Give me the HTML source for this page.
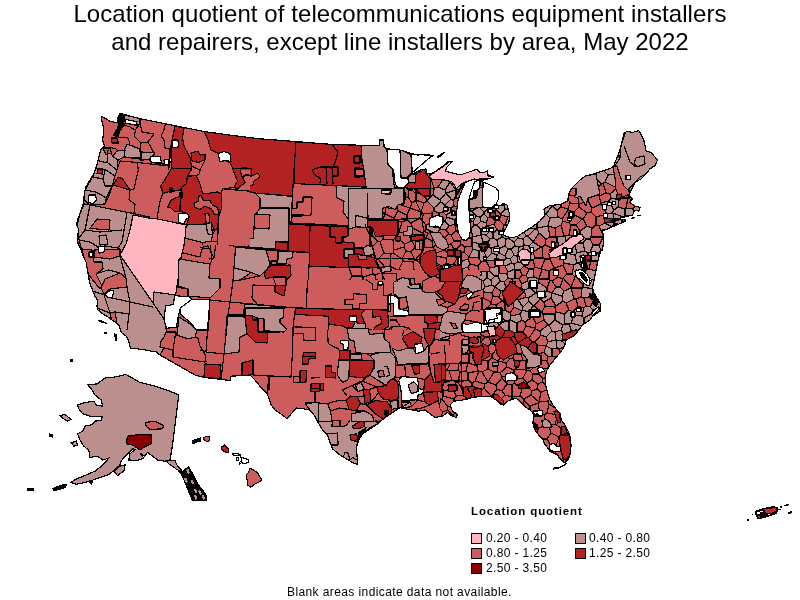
<!DOCTYPE html>
<html lang="en">
<head>
<meta charset="utf-8">
<title>Location quotient of telecommunications equipment installers and repairers, except line installers by area, May 2022</title>
<style>
html,body{margin:0;padding:0;background:#fff;}
body{width:800px;height:600px;overflow:hidden;position:relative;font-family:"Liberation Sans",sans-serif;color:#000;}
#map{position:absolute;left:0;top:0;width:800px;height:600px;}
.title{position:absolute;left:0;width:800px;text-align:center;font-size:24px;line-height:28px;white-space:nowrap;letter-spacing:0.08px;}
.t1{top:0px;}
.t2{top:28px;letter-spacing:0.02px;}
.legend-title{position:absolute;left:471px;top:504px;font-size:11.5px;font-weight:bold;line-height:14px;white-space:nowrap;letter-spacing:0.9px;}
.item{position:absolute;font-size:12px;line-height:14px;white-space:nowrap;letter-spacing:0.35px;}
.sw{position:absolute;width:9px;height:9px;border:1px solid #000;}
.foot{position:absolute;left:287px;top:585px;font-size:12px;line-height:14px;white-space:nowrap;letter-spacing:0.4px;}
</style>
</head>
<body>
<svg id="map" width="800" height="600" viewBox="0 0 800 600" shape-rendering="crispEdges">
<defs><path id="o" d="M102,116.5 L110,121.2 L117,123 L118,117.5 L120,113 L122.5,114 L140,118.8 L170,124.8 L203.8,131.5 L235,135.8 L260,138.8 L295,141.5 L332.5,144.5 L360,145.2 L379.5,145.5 L379.5,140 L383,139.2 L384.2,145.5 L386.2,148.8 L400,150 L410,153 L417.5,155 L425,154.5 L433,155.5 L428,159 L420,166 L412,173 L409,175.6 L412,174.4 L420,170 L426,169 L427,173 L430,174.4 L436,171 L443,166 L447,162 L452,161.6 L450,164 L447,167 L445.6,171 L452,173 L460,175 L466,173 L472,171 L477,169 L479,172 L484,172.4 L487.6,171 L488,175 L494,177 L488,179 L483,180 L480,179.6 L474,179 L469,181 L466,182.4 L462,184.4 L460,188 L457,193 L454.4,199 L460,190 L465,183 L462,190 L458,200 L456.4,214 L457,226 L459,234 L462,239.6 L466,240.4 L469,238 L470.4,230 L470,220 L469,210 L469,200 L471,192 L473,186 L475,181.6 L479,179.6 L483,182 L488,184 L496,188 L498.4,191 L498.4,199 L496,204.4 L500,206 L503,203 L507,205 L509.6,214 L509,222 L506,228 L504,232 L503,235 L506,236.4 L512,238 L518,236 L524,232 L532,227 L540,221 L545,215 L544,209 L550,205.5 L560,204.5 L567.5,201.2 L568.8,193.8 L571.2,188.8 L580,180 L585,176.2 L596.2,173.2 L612.5,167.5 L613.8,165.5 L620,150 L623.8,133.8 L627,131.2 L632.5,132.5 L638.8,130.5 L643.8,140 L646.2,151.2 L651.2,152.5 L657.5,160 L655,165.5 L650,168.8 L645,175 L641.2,178.8 L635,182.5 L632.5,187.5 L628.8,195 L632.5,198.8 L630,202.5 L635,206.2 L640,207.5 L638.8,211.2 L635,210 L632.5,215 L622.5,217.5 L610,220.5 L625,219.5 L625,221.5 L605,230 L602.5,230 L603.8,240 L602.5,250 L601.2,250 L598.8,257.5 L597,265 L595,275 L592.5,287.5 L593.8,292.5 L597.5,298.8 L600.5,303.8 L600,311.2 L592.5,316.2 L590,320 L582.5,325 L578.8,330 L575,335 L566.2,340 L565,345 L561.2,351.2 L555,358.8 L550,365 L547,370 L545,377.5 L545.5,385 L547.5,392.5 L548.1,395 L550,400 L553.8,406.2 L556.9,410 L560,413.8 L561.2,420 L565,425 L568.1,431.2 L570,436.2 L571,445 L570.6,452.5 L569,457.5 L566.9,461.2 L564.4,462.5 L562.5,461.2 L560,458.8 L557.5,455 L553.8,453.1 L550,451.2 L547.5,447.5 L544.4,443.8 L542.5,438.8 L538.8,435 L535.6,431.2 L533.8,427.5 L532.8,422.5 L533.8,417.5 L532.8,412.5 L530,410 L526.2,407.5 L522.5,403.8 L518.8,400.6 L516.2,398.1 L513.8,398.8 L507.5,401.2 L503.8,405 L500,403.8 L496.2,400 L490,396.2 L482.5,396.2 L472.5,397.5 L468.8,398.8 L462.5,400 L453.8,401.2 L450,405 L452.5,411.2 L457.5,414.5 L456.2,417.5 L451.2,415.5 L447.5,412.5 L442.5,416.2 L435,417.5 L430,413.8 L425,410 L418.8,411.2 L412.5,410 L405,408.8 L400,407.5 L392.5,412.5 L385,417.5 L377.5,423.8 L370,428.8 L362.5,433.8 L358.8,440 L356.2,447.5 L357,455 L357.5,464.5 L352.5,462.5 L346.2,458.8 L340,455 L332.5,448.8 L330,442.5 L327.5,435 L322.5,430 L318.8,423.8 L315,416.2 L310,410 L303.8,408.8 L296.2,408 L291.2,413.8 L287,418.8 L282.5,415 L275,410 L271.2,405 L268.8,397.5 L266.2,392.5 L260,386.2 L255,380 L250,375 L230.8,376.2 L230,380.5 L222,379.5 L204.5,377.5 L195,375 L160,355 L156.2,352 L142.5,349.5 L130.5,348 L128.8,341.2 L126.2,336.2 L121.2,332.5 L118.8,325 L113.8,321.2 L108.8,317.5 L102.5,313.8 L98,310 L97,306.2 L97.5,300 L95,296.2 L92.5,290 L89.5,282.5 L88.8,277.5 L87.5,270 L86.2,262.5 L83.8,257.5 L81.2,250 L78,243.8 L77.5,236.2 L78.8,230 L76.5,224.5 L77.5,220 L80,213.8 L82,207.5 L83.8,202.5 L84.2,193.8 L86.2,186.2 L90,180 L93.8,173.8 L97,165 L98.8,157.5 L100.5,150 L104.5,146.2 L102.5,140 L103.8,132.5 L103,125 L101.2,118.8Z"/><clipPath id="us"><use href="#o"/></clipPath></defs>
<use href="#o" fill="#CD5C5C"/>
<g clip-path="url(#us)" stroke="#000" stroke-width="1.2" stroke-linejoin="round">
<path d="M354,391 L353,390 L342,389 L340,393 L343,401 L348,403 L350,402 L355,393ZM468,373 L468,380 L472,383 L475,381 L479,371 L478,371ZM419,293 L410,292 L408,295 L410,304 L421,300 L421,299ZM548,401 L549,404 L555,408 L554,406 L550,400 L550,399ZM389,278 L389,281 L394,287 L397,288 L400,286 L401,282 L395,274ZM643,138 L639,130 L637,131 L637,132 L643,139ZM397,310 L395,311 L396,318 L404,320 L407,318 L405,311ZM502,391 L507,384 L502,378 L496,385 L497,389ZM552,293 L556,287 L552,281 L550,280 L547,288 L547,291 L552,293ZM399,296 L397,288 L394,287 L387,293 L389,300 L398,298ZM455,292 L456,290 L451,286 L446,288 L445,291 L447,296 L450,296ZM453,415 L447,410 L443,412 L441,416 L442,416 L448,412 L451,416 L453,416ZM543,258 L545,259 L550,259 L554,254 L554,249 L545,245 L542,247ZM378,378 L377,384 L381,389 L387,390 L389,388 L388,377ZM534,306 L542,312 L545,306 L544,302 L540,299ZM359,367 L349,366 L347,375 L353,378 L358,377ZM498,361 L497,372 L500,373 L507,367 L506,363ZM421,284 L422,287 L428,289 L435,286 L435,284 L435,283 L429,278 L426,278ZM571,288 L574,299 L576,299 L581,297 L582,288 L571,288ZM372,236 L362,239 L367,250 L369,250 L378,241ZM375,275 L383,272 L385,267 L378,259 L377,259 L372,265 L373,274ZM471,398 L472,398 L480,397 L481,391 L472,388 L466,396ZM332,420 L330,425 L330,430 L331,435 L333,437 L340,436 L342,425ZM376,346 L372,346 L366,355 L368,357 L374,358 L380,352ZM353,252 L353,244 L349,241 L345,250 L345,252ZM523,378 L527,383 L532,380 L533,374 L530,371 L527,370ZM364,210 L370,211 L374,202 L372,198 L366,197 L366,200 L362,209ZM381,389 L374,396 L382,403 L388,394 L387,390ZM505,395 L499,401 L501,404 L504,405 L508,401 L512,400 L512,397ZM563,278 L567,274 L563,265 L555,268 L558,277 L563,279ZM331,407 L330,407 L330,420 L332,420 L335,410ZM537,432 L539,428 L533,421 L533,422 L534,428 L536,431 L536,432ZM416,158 L414,158 L412,168 L415,170 L420,166 L422,164ZM447,263 L442,266 L442,271 L447,274 L450,273 L450,265ZM377,303 L379,309 L383,313 L390,309 L389,300 L378,301ZM383,239 L380,242 L384,253 L391,254 L393,253 L394,250 L393,240ZM549,366 L548,368 L548,369 L550,366ZM464,328 L464,332 L468,336 L473,334 L472,325 L470,324ZM434,211 L434,208 L427,201 L424,203 L421,212 L421,214 L432,213ZM351,343 L350,345 L354,355 L357,356 L361,353 L361,345 L357,341ZM424,379 L422,381 L422,389 L427,395 L435,388 L432,382ZM504,282 L506,287 L513,286 L512,279 L508,278ZM341,381 L332,379 L330,381 L330,391 L332,393 L340,393 L342,389ZM655,158 L656,163 L658,160 L655,157ZM445,245 L445,250 L449,255 L451,254 L454,249 L451,244ZM578,306 L576,299 L574,299 L566,303 L569,310 L573,312ZM367,184 L376,188 L380,173 L371,170 L366,176 L366,178ZM387,390 L388,394 L391,395 L401,394 L404,387 L399,383 L389,388ZM453,415 L453,416 L456,418 L458,414 L455,413ZM429,296 L428,289 L422,287 L419,293 L421,299ZM398,362 L409,360 L410,357 L406,350 L398,352 L396,354ZM443,396 L454,399 L456,396 L453,389 L443,391ZM332,393 L330,396 L330,402 L331,407 L335,410 L343,401 L340,393ZM330,363 L332,356 L330,355 L330,363ZM546,385 L545,378 L543,379 L542,382ZM366,420 L367,417 L363,407 L353,415 L356,421 L359,423ZM406,169 L405,168 L396,174 L396,176 L405,180 L407,178ZM384,353 L387,352 L389,342 L383,339 L380,340 L376,346 L380,352ZM438,365 L434,367 L433,370 L437,377 L440,377 L447,370ZM436,256 L446,258 L449,255 L445,250 L436,253 L436,254ZM394,250 L404,247 L405,244 L396,237 L393,240ZM512,400 L514,399 L516,398 L519,401 L522,404 L523,404 L524,401 L524,399 L520,396 L512,397ZM422,193 L423,188 L421,184 L418,183 L412,190 L416,194ZM485,323 L487,324 L495,319 L492,314 L486,312ZM543,439 L544,444 L548,448 L548,449 L551,446 L547,439ZM340,436 L333,437 L331,445 L338,450 L343,450 L346,442 L345,439ZM423,233 L412,228 L409,233 L411,241 L412,241 L423,237 L423,236ZM396,318 L393,321 L398,333 L402,331 L404,320ZM458,347 L463,354 L469,354 L470,353 L471,348 L465,342 L460,343ZM451,208 L451,212 L456,216 L456,214 L457,207 L454,206ZM459,363 L458,370 L460,372 L466,371 L468,363ZM501,312 L505,310 L505,304 L503,301 L502,301 L496,305 L497,310ZM354,252 L345,264 L345,266 L349,268 L358,265 L355,253ZM398,211 L397,205 L386,205 L385,213 L385,214 L394,218ZM420,322 L413,320 L411,330 L420,331ZM368,300 L369,302 L377,303 L378,301 L378,292 L371,288ZM542,247 L545,245 L546,239 L539,233 L533,242 L541,247ZM448,166 L450,164 L452,162 L447,162ZM537,353 L530,353 L529,359 L537,362 L539,360 L539,354ZM559,349 L560,353 L561,351 L564,347ZM375,157 L368,154 L366,155 L366,166 L371,170ZM415,260 L426,264 L427,257 L422,252ZM370,211 L364,210 L359,221 L362,226 L364,225 L371,216 L371,213ZM466,302 L470,306 L474,306 L475,299 L473,297 L470,297ZM411,252 L406,251 L402,259 L403,261 L413,262 L415,260ZM596,217 L591,212 L587,213 L583,219 L587,226 L592,228 L596,225ZM376,364 L369,369 L370,374 L377,376 L382,366ZM362,406 L363,407 L369,405 L373,396 L368,393 L362,397ZM558,415 L555,424 L561,428 L566,427 L565,425 L561,420 L560,415 L559,415ZM391,227 L384,227 L383,239 L393,240 L396,237 L397,234ZM380,145 L380,144 L380,145ZM349,268 L345,266 L345,281 L350,280 L352,276ZM597,195 L589,198 L588,201 L592,208 L601,204 L601,203 L599,196ZM491,304 L491,302 L483,298 L482,298 L482,309 L485,310ZM347,309 L346,320 L351,322 L353,321 L356,316 L353,307ZM332,356 L330,363 L332,367 L338,367 L345,360 L341,355ZM436,353 L429,357 L429,364 L434,367 L438,365 L440,358ZM596,217 L607,214 L601,204 L592,208 L591,212ZM460,318 L458,325 L464,328 L470,324 L469,321ZM460,269 L454,264 L450,265 L450,273 L454,275ZM423,237 L423,248 L433,247 L432,241 L423,236ZM543,258 L535,258 L533,260 L535,267 L541,269 L545,259ZM331,346 L332,345 L330,339 L330,346ZM563,448 L570,439 L560,436 L559,437 L556,446ZM367,315 L368,318 L376,321 L383,313 L379,309ZM497,401 L500,404 L501,404 L499,401ZM420,338 L421,346 L426,348 L429,347 L430,339 L422,336ZM399,383 L404,387 L407,386 L412,380 L410,374 L409,373 L400,372 L398,376ZM442,315 L441,312 L433,309 L429,314 L434,323 L436,322ZM418,183 L414,178 L407,178 L405,180 L405,187 L409,190 L412,190ZM351,330 L351,322 L346,320 L343,321 L340,333 L341,334 L344,335ZM521,354 L524,349 L518,343 L512,348 L514,354ZM526,370 L516,369 L514,370 L514,375 L516,379 L523,378 L527,370ZM399,232 L402,222 L394,220 L391,227 L397,234ZM479,371 L482,372 L488,369 L488,361 L481,360 L477,366 L478,371ZM571,288 L582,288 L583,287 L583,285 L576,276 L575,277 L571,287ZM355,445 L346,442 L343,450 L346,455 L355,456 L356,455ZM401,150 L400,150 L396,150 L395,151 L396,152 L397,152ZM417,349 L421,346 L420,338 L411,339 L409,344ZM397,363 L398,362 L396,354 L387,352 L384,353 L386,365ZM411,401 L403,397 L396,408 L398,409 L400,408 L405,409 L406,409ZM362,298 L354,302 L354,304 L365,310 L369,302 L368,300ZM475,299 L482,298 L483,298 L484,292 L483,290 L475,288 L475,289 L473,297ZM442,399 L443,396 L443,391 L442,389 L435,388 L427,395 L427,396 L429,398 L439,400ZM363,277 L362,276 L352,276 L350,280 L354,288 L360,287 L363,286ZM391,254 L390,266 L397,270 L399,269 L403,261 L402,259 L393,253ZM591,261 L589,269 L596,271 L597,265 L598,261ZM461,269 L460,269 L454,275 L456,278 L458,280 L465,279 L466,278 L462,269ZM492,355 L492,358 L498,361 L503,353 L503,352 L498,347ZM359,221 L357,221 L353,231 L359,231 L362,226ZM496,385 L488,382 L485,384 L484,388 L491,396 L492,396 L497,389ZM412,241 L415,247 L422,250 L423,248 L423,237ZM448,407 L447,410 L453,415 L455,413 L452,411 L450,406ZM392,168 L383,169 L380,173 L391,181 L396,176 L396,174ZM416,363 L418,369 L421,371 L426,365 L420,361ZM396,408 L395,408 L391,411 L391,412 L391,414 L392,412 L398,409ZM466,396 L472,388 L472,383 L468,380 L458,382 L465,395 L466,396ZM442,242 L445,245 L451,244 L454,241 L451,235 L449,234 L442,240ZM347,295 L345,292 L345,296ZM396,152 L395,151 L393,149 L386,149 L385,146 L381,147 L379,155 L383,158 L392,158ZM343,401 L335,410 L346,415 L350,413 L348,403ZM589,198 L586,193 L577,192 L577,193 L579,204 L588,201ZM561,460 L562,461 L564,462 L567,461 L568,459 L563,458ZM465,399 L469,399 L471,398 L466,396ZM405,187 L397,191 L396,193 L399,200 L408,197 L409,190ZM421,214 L421,212 L410,208 L407,215 L407,220 L411,223 L420,218ZM331,407 L330,402 L330,407ZM603,236 L603,235 L599,226 L596,225 L592,228 L591,237 L603,237ZM417,404 L412,401 L411,401 L406,409 L412,410 L416,411 L418,407ZM372,229 L364,225 L362,226 L359,231 L361,239 L362,239 L372,236ZM359,438 L358,441 L359,440 L361,436ZM541,335 L540,331 L535,329 L529,338 L532,342 L535,342ZM643,139 L642,140 L644,142 L644,140 L643,138ZM377,415 L379,417 L391,412 L391,411 L382,404 L377,408ZM525,322 L522,320 L517,323 L517,332 L523,332 L526,326ZM568,199 L568,201 L561,204 L561,207 L568,209 L570,203ZM417,353 L410,357 L409,360 L416,363 L420,361 L421,356ZM337,318 L337,317 L336,318ZM456,231 L451,235 L454,241 L460,241 L462,239 L459,234 L459,233ZM332,379 L330,372 L330,381ZM426,175 L427,178 L431,179 L437,175 L438,171 L438,170 L436,171 L430,174 L427,173 L427,172ZM331,445 L333,437 L331,435 L330,435 L330,442 L331,445ZM428,159 L433,156 L427,155 L428,159ZM418,369 L410,374 L412,380 L422,381 L424,379 L424,377 L421,371ZM539,360 L537,362 L537,364 L541,369 L548,368 L549,366 L547,361ZM426,264 L421,273 L426,278 L429,278 L433,272 L432,266ZM555,446 L551,446 L548,449 L550,451 L554,453 L556,454ZM429,411 L427,412 L430,414 L433,416ZM441,416 L443,412 L438,407 L429,411 L433,416 L435,418 L441,416ZM383,339 L386,330 L385,327 L378,327 L373,332 L380,340ZM422,336 L430,339 L435,337 L430,328 L422,334ZM359,438 L354,433 L352,433 L345,439 L346,442 L355,445 L358,442 L358,441ZM552,356 L548,357 L547,361 L549,366 L550,366 L550,365 L555,359 L557,357ZM464,252 L460,253 L457,258 L462,261 L468,259 L469,257ZM383,272 L389,278 L395,274 L397,270 L390,266 L385,267ZM584,298 L581,297 L576,299 L578,306 L584,308 L586,306ZM622,223 L625,222 L625,220 L622,220ZM625,215 L623,217 L628,216ZM413,282 L412,282 L409,289 L410,292 L419,293 L422,287 L421,284ZM455,224 L455,225 L457,225 L457,217 L455,220ZM546,346 L548,342 L546,337 L541,335 L535,342 L537,345ZM548,401 L550,399 L548,395 L548,392 L547,390 L541,392 L539,402ZM571,225 L569,223 L563,221 L561,225 L564,236 L565,236 L569,235ZM403,261 L399,269 L406,273 L414,270 L413,262ZM410,305 L410,304 L408,295 L399,296 L398,298 L399,302 L409,305ZM554,249 L557,246 L557,237 L556,237 L550,237 L546,239 L545,245ZM444,285 L446,280 L446,279 L440,278 L435,283 L435,284ZM554,268 L555,268 L563,265 L564,263 L563,258 L554,254 L550,259ZM350,413 L346,415 L344,424 L348,425 L356,421 L353,415ZM496,305 L502,301 L499,297 L493,296 L491,302 L491,304ZM343,321 L337,318 L336,318 L331,328 L336,333 L340,333ZM548,368 L541,369 L539,374 L543,379 L545,378 L547,370 L548,369ZM394,218 L385,214 L381,225 L384,227 L391,227 L394,220ZM492,396 L491,396 L490,396 L494,399ZM474,306 L478,310 L482,309 L482,298 L475,299ZM528,278 L526,276 L522,275 L519,279 L522,284 L527,281ZM332,345 L331,346 L332,356 L341,355 L342,349 L339,345ZM422,389 L415,392 L412,401 L417,404 L427,396 L427,395ZM451,244 L454,249 L457,249 L461,244 L460,241 L454,241ZM478,266 L470,264 L468,267 L471,274 L477,274 L479,271ZM429,314 L424,314 L422,321 L430,326 L434,323ZM356,421 L348,425 L352,433 L354,433 L359,426 L359,423ZM458,280 L457,288 L465,288 L466,280 L465,279ZM397,205 L398,211 L407,215 L410,208 L398,204ZM422,381 L412,380 L407,386 L415,392 L422,389ZM458,370 L449,371 L452,380 L456,382 L458,382 L460,372ZM366,166 L366,176 L371,170ZM494,224 L497,230 L501,231 L503,229 L504,225 L499,220 L496,221ZM412,168 L406,169 L407,178 L414,178 L417,172 L412,174 L409,176 L412,173 L415,170ZM356,455 L355,456 L355,464 L358,464 L357,455ZM367,250 L364,253 L365,263 L372,265 L377,259 L369,250ZM397,191 L391,182 L381,189 L387,196 L396,193ZM368,154 L367,149 L366,148 L366,155ZM587,213 L591,212 L592,208 L588,201 L579,204 L579,207ZM564,291 L571,288 L571,287 L563,278 L563,279 L560,287ZM576,225 L582,219 L575,215 L569,223 L571,225ZM472,200 L470,196 L469,200 L469,204ZM629,197 L628,198 L626,208 L633,209 L635,206 L630,202 L631,201ZM496,221 L499,220 L501,215 L501,214 L496,210 L494,211 L491,217ZM433,247 L442,242 L442,240 L437,234 L432,241 L433,247ZM485,323 L481,324 L480,334 L485,337 L489,337 L492,333 L487,324ZM399,200 L396,193 L387,196 L385,203 L386,205 L397,205 L398,204ZM449,349 L452,350 L458,347 L460,343 L455,336 L448,338 L448,347ZM399,296 L408,295 L410,292 L409,289 L400,286 L397,288ZM380,242 L378,241 L369,250 L377,259 L378,259 L384,253ZM396,237 L405,244 L411,241 L409,233 L399,232 L397,234ZM344,335 L341,334 L339,345 L342,349 L350,345 L351,343ZM346,455 L343,450 L338,450 L337,452 L340,455 L345,458ZM372,198 L376,188 L367,184 L366,184 L366,197ZM433,309 L441,312 L444,308 L442,300 L435,298 L432,306ZM363,407 L367,417 L377,415 L377,408 L369,405ZM508,295 L514,301 L517,299 L516,290ZM512,397 L520,396 L522,389 L514,383 L512,385ZM438,187 L442,181 L437,175 L431,179 L434,188ZM371,427 L366,420 L359,423 L359,426 L365,432 L369,429ZM353,378 L347,375 L345,376 L341,381 L342,389 L353,390ZM559,415 L560,415 L560,414 L559,413ZM437,377 L432,382 L435,388 L442,389 L444,383 L440,377ZM379,155 L381,147 L380,145 L380,146 L370,145 L367,149 L368,154 L375,157ZM555,307 L556,312 L564,314 L569,310 L566,303 L563,301 L556,306ZM472,242 L472,238 L469,238 L466,240 L462,240 L462,239 L460,241 L461,244 L465,247 L472,246ZM472,388 L481,391 L484,388 L485,384 L475,381 L472,383ZM357,341 L361,345 L368,343 L368,333 L365,331 L359,335ZM524,266 L529,269 L533,269 L535,267 L533,260 L526,260 L524,263ZM353,244 L361,239 L359,231 L353,231 L349,241ZM389,342 L395,340 L396,339 L398,334 L386,330 L383,339ZM607,214 L596,217 L596,225 L599,226 L605,223ZM443,412 L447,410 L448,407 L442,399 L439,400 L438,407ZM574,212 L568,210 L562,219 L563,221 L569,223 L575,215ZM542,269 L539,279 L549,279 L549,271ZM480,356 L483,349 L479,345 L476,345 L471,348 L470,353ZM468,259 L470,264 L478,266 L481,262 L479,258 L469,257ZM440,358 L438,365 L447,370 L451,362 L443,357ZM574,236 L580,233 L580,231 L576,225 L571,225 L569,235ZM365,385 L364,379 L358,377 L353,378 L353,390 L354,391ZM538,403 L540,414 L544,415 L547,413 L549,404 L548,401 L539,402ZM568,209 L561,207 L557,210 L558,217 L562,219 L568,210ZM429,411 L429,398 L427,396 L417,404 L418,407 L424,410 L425,410 L427,412ZM486,261 L490,268 L499,266 L500,265 L496,260 L486,261ZM385,214 L385,213 L371,213 L371,216 L379,225 L381,225ZM402,259 L406,251 L404,247 L394,250 L393,253ZM418,155 L410,153 L409,153 L410,157 L414,158 L416,158ZM338,450 L331,445 L332,449 L337,452ZM461,299 L461,296 L455,292 L450,296 L454,303ZM447,296 L445,291 L437,290 L435,298 L442,300ZM514,383 L516,379 L514,375 L502,377 L502,378 L507,384 L512,385ZM533,317 L536,324 L544,320 L543,314 L542,312ZM404,320 L402,331 L408,332 L411,330 L413,320 L412,319 L407,318ZM454,206 L457,207 L458,200 L459,199 L456,198 L455,198 L454,199 L455,199 L453,200ZM530,371 L537,364 L537,362 L529,359 L526,361 L526,370 L527,370ZM434,367 L429,364 L426,365 L421,371 L424,377 L433,370ZM622,198 L619,200 L618,207 L625,209 L626,208 L628,198ZM514,354 L512,348 L510,348 L503,352 L503,353 L510,359 L513,358ZM409,373 L409,360 L398,362 L397,363 L400,372ZM383,169 L383,158 L379,155 L375,157 L371,170 L380,173ZM432,306 L435,298 L429,296 L421,299 L421,300 L423,304ZM373,332 L368,333 L368,343 L372,346 L376,346 L380,340ZM384,353 L380,352 L374,358 L376,364 L382,366 L386,365ZM541,269 L542,269 L549,271 L554,268 L550,259 L545,259ZM371,288 L378,292 L382,290 L383,283 L376,279ZM502,378 L502,377 L500,373 L497,372 L494,372 L488,382 L496,385ZM421,300 L410,304 L410,305 L415,312 L421,311 L423,304ZM534,417 L540,414 L538,403 L530,406 L530,410 L533,412 L534,417ZM371,216 L364,225 L372,229 L379,225ZM354,288 L348,295 L354,302 L362,298 L360,287ZM474,225 L473,222 L470,220 L470,229 L471,229ZM388,376 L398,376 L400,372 L397,363 L386,365ZM405,180 L396,176 L391,181 L391,182 L397,191 L405,187ZM470,324 L472,325 L479,323 L477,313 L470,316 L469,321ZM438,337 L439,347 L448,347 L448,338 L447,338 L438,337ZM435,298 L437,290 L435,286 L428,289 L429,296 L435,298ZM450,296 L447,296 L442,300 L444,308 L451,308 L454,304 L454,303ZM459,199 L462,190 L462,189 L461,188 L460,190 L456,196 L456,198ZM456,190 L456,195 L457,193 L460,189ZM526,361 L523,360 L516,362 L516,369 L526,370ZM473,237 L471,229 L470,229 L470,230 L469,238 L472,238ZM559,437 L560,436 L561,428 L555,424 L549,426 L551,433ZM350,402 L348,403 L350,413 L353,415 L363,407 L362,406ZM517,299 L518,300 L526,297 L524,290 L521,288 L517,289 L516,290ZM547,439 L551,433 L549,426 L547,425 L539,428 L537,432 L538,434 L539,435 L542,439 L543,439ZM363,277 L363,286 L371,288 L376,279 L375,275 L373,274ZM338,367 L332,367 L330,372 L332,379 L341,381 L345,376ZM409,373 L410,374 L418,369 L416,363 L409,360ZM579,204 L577,193 L570,194 L569,195 L568,199 L570,203 L579,204ZM348,425 L344,424 L342,425 L340,436 L345,439 L352,433ZM451,308 L455,316 L458,316 L462,311 L461,308 L454,304ZM359,221 L364,210 L362,209 L357,221ZM464,302 L466,302 L470,297 L466,294 L461,296 L461,299ZM377,384 L367,386 L368,393 L373,396 L374,396 L381,389ZM382,404 L391,411 L395,408 L391,395 L388,394 L382,403ZM510,359 L506,363 L507,367 L514,370 L516,369 L516,362 L513,358ZM637,132 L637,131 L632,132 L629,132 L630,133ZM436,263 L442,266 L447,263 L446,258 L436,256ZM470,212 L471,211 L469,204 L469,210 L469,212ZM374,358 L368,357 L366,366 L369,369 L376,364ZM365,331 L364,326 L353,321 L351,322 L351,330 L359,335ZM589,269 L591,261 L588,257 L579,263 L584,271 L585,271ZM365,310 L366,314 L367,315 L379,309 L377,303 L369,302ZM395,151 L396,150 L393,149ZM346,455 L345,458 L346,459 L352,462 L355,464 L355,456ZM603,183 L602,184 L596,189 L597,195 L599,196 L606,193ZM466,396 L465,395 L456,396 L454,399 L454,401 L462,400 L465,399ZM465,342 L468,336 L464,332 L456,334 L455,336 L460,343ZM539,360 L547,361 L548,357 L544,352 L539,354ZM462,311 L465,311 L470,306 L466,302 L464,302 L461,308ZM547,425 L544,415 L540,414 L534,417 L534,418 L533,421 L539,428ZM487,272 L489,271 L490,268 L486,261 L481,262 L478,266 L479,271ZM443,357 L451,362 L456,360 L452,350 L449,349ZM414,178 L418,183 L421,184 L427,178 L426,175 L417,171 L417,172ZM452,173 L446,171 L447,168 L443,171 L449,179 L450,179ZM415,312 L412,319 L413,320 L420,322 L422,321 L424,314 L421,311ZM364,253 L355,253 L358,265 L361,266 L365,263ZM403,164 L405,159 L397,152 L396,152 L392,158 L394,164ZM416,411 L419,411 L424,410 L418,407ZM432,241 L437,234 L426,229 L423,233 L423,236ZM451,282 L451,286 L456,290 L457,288 L458,280 L456,278ZM507,384 L502,391 L505,395 L512,397 L512,385ZM483,349 L480,356 L481,360 L488,361 L492,358 L492,355 L486,349ZM406,278 L412,282 L413,282 L416,272 L414,270 L406,273ZM402,331 L398,333 L398,334 L396,339 L408,345 L409,344 L411,339 L408,332ZM367,184 L366,178 L366,184ZM354,302 L348,295 L347,295 L345,296 L345,300 L341,307 L347,309 L353,307 L354,304ZM353,321 L364,326 L368,318 L367,315 L366,314 L356,316ZM575,277 L572,274 L567,274 L563,278 L571,287ZM357,356 L354,355 L346,360 L349,366 L359,367 L360,366ZM432,222 L432,213 L421,214 L420,218 L426,225ZM439,222 L445,221 L447,217 L446,215 L443,212 L439,213ZM345,281 L345,292 L347,295 L348,295 L354,288 L350,280ZM346,320 L347,309 L341,307 L341,308 L337,317 L337,318 L343,321ZM398,298 L389,300 L390,309 L395,311 L397,310 L399,302ZM556,237 L555,228 L548,226 L550,237ZM355,445 L356,455 L357,455 L356,448 L358,442ZM558,277 L555,268 L554,268 L549,271 L549,279 L550,280 L552,281ZM418,155 L416,158 L422,164 L428,159 L427,155 L425,154 L422,155ZM399,302 L397,310 L405,311 L409,305ZM629,197 L629,195 L629,187 L621,184 L617,188 L622,198 L628,198 L629,197ZM335,410 L332,420 L342,425 L344,424 L346,415ZM374,202 L370,211 L371,213 L385,213 L386,205 L385,203ZM450,273 L447,274 L446,279 L446,280 L451,282 L456,278 L454,275ZM533,317 L532,317 L525,322 L526,326 L535,328 L536,324ZM378,327 L385,327 L388,322 L383,313 L376,321ZM456,360 L463,354 L458,347 L452,350ZM549,279 L539,279 L538,282 L547,288 L550,280ZM535,328 L535,329 L540,331 L548,325 L544,320 L536,324ZM377,376 L370,374 L364,379 L365,385 L367,386 L377,384 L378,378ZM504,290 L501,291 L499,297 L502,301 L503,301 L508,295ZM437,175 L442,181 L449,179 L443,171 L438,171ZM436,253 L445,250 L445,245 L442,242 L433,247ZM405,311 L407,318 L412,319 L415,312 L410,305 L409,305ZM372,198 L374,202 L385,203 L387,196 L381,189 L376,188ZM413,262 L414,270 L416,272 L421,273 L426,264 L415,260ZM497,372 L498,361 L492,358 L488,361 L488,369 L494,372ZM447,370 L440,377 L444,383 L452,380 L449,371 L447,370ZM392,168 L394,164 L392,158 L383,158 L383,169ZM459,233 L457,226 L457,225 L455,225 L456,231ZM442,399 L448,407 L450,406 L450,405 L454,401 L454,399 L443,396ZM488,382 L494,372 L488,369 L482,372 L488,382ZM469,257 L473,249 L472,246 L465,247 L464,252 L469,257ZM542,382 L543,379 L539,374 L533,374 L532,380 L538,384ZM429,347 L426,348 L426,354 L429,357 L436,353 L436,350ZM381,225 L379,225 L372,229 L372,236 L378,241 L380,242 L383,239 L384,227ZM559,349 L557,348 L552,349 L552,356 L557,357 L560,353ZM367,149 L370,145 L366,145 L366,148ZM451,254 L449,255 L446,258 L447,263 L450,265 L454,264 L457,258ZM395,408 L396,408 L403,397 L401,394 L391,395ZM435,337 L438,337 L440,327 L436,322 L434,323 L430,326 L430,328ZM330,339 L336,333 L331,328 L330,330 L330,339ZM331,435 L330,430 L330,435ZM447,162 L443,166 L438,170 L438,171 L443,171 L447,168 L447,167 L448,166ZM378,301 L389,300 L387,293 L382,290 L378,292ZM462,261 L457,258 L454,264 L460,269 L461,269ZM403,397 L411,401 L412,401 L415,392 L407,386 L404,387 L401,394ZM383,313 L388,322 L393,321 L396,318 L395,311 L390,309ZM412,190 L409,190 L408,197 L412,203 L416,200 L416,194ZM538,384 L532,380 L527,383 L527,386 L532,391 L537,389ZM544,352 L546,346 L537,345 L537,353 L539,354ZM361,239 L353,244 L353,252 L354,252 L355,253 L364,253 L367,250 L362,239ZM372,265 L365,263 L361,266 L362,276 L363,277 L373,274ZM416,200 L412,203 L410,208 L421,212 L424,203ZM368,333 L373,332 L378,327 L376,321 L368,318 L364,326 L365,331ZM547,425 L549,426 L555,424 L558,415 L547,413 L544,415ZM423,188 L434,189 L434,188 L431,179 L427,178 L421,184ZM388,377 L389,388 L399,383 L398,376 L388,376ZM422,250 L415,247 L411,252 L415,260 L422,252ZM449,234 L446,230 L440,229 L437,234 L442,240ZM624,140 L630,137 L630,133 L629,132 L627,131 L624,134 L623,139ZM423,248 L422,250 L422,252 L427,257 L436,254 L436,253 L433,247ZM572,274 L574,265 L564,263 L563,265 L567,274ZM396,354 L398,352 L395,340 L389,342 L387,352ZM485,310 L482,309 L478,310 L477,313 L479,323 L481,324 L485,323 L486,312ZM535,328 L526,326 L523,332 L527,337 L529,338 L535,329ZM439,347 L436,350 L436,353 L440,358 L443,357 L449,349 L448,347ZM435,283 L440,278 L439,273 L433,272 L429,278ZM579,207 L579,204 L570,203 L568,209 L568,210 L574,212ZM383,283 L382,290 L387,293 L394,287 L389,281ZM466,371 L468,373 L478,371 L477,366 L469,363 L468,363ZM444,285 L435,284 L435,286 L437,290 L445,291 L446,288ZM510,359 L503,353 L498,361 L506,363ZM582,219 L583,219 L587,213 L579,207 L574,212 L575,215ZM486,349 L492,355 L498,347 L491,343ZM535,267 L533,269 L534,277 L539,279 L542,269 L541,269ZM510,313 L511,316 L520,314 L522,311 L514,307ZM417,349 L409,344 L408,345 L406,350 L410,357 L417,353ZM565,451 L563,458 L568,459 L569,458 L571,452 L571,451ZM531,395 L524,399 L524,401 L530,406 L538,403 L539,402ZM380,145 L381,147 L385,146 L384,146 L384,144 L380,143 L380,144ZM366,366 L360,366 L359,367 L358,377 L364,379 L370,374 L369,369ZM469,354 L469,363 L477,366 L481,360 L480,356 L470,353ZM506,287 L504,290 L508,295 L516,290 L517,289 L513,286ZM341,355 L345,360 L346,360 L354,355 L350,345 L342,349ZM530,371 L533,374 L539,374 L541,369 L537,364ZM556,446 L559,437 L551,433 L547,439 L551,446 L555,446ZM391,412 L379,417 L380,422 L385,418 L391,414ZM332,367 L330,363 L330,372ZM513,286 L517,289 L521,288 L522,284 L519,279 L515,278 L512,279ZM430,339 L429,347 L436,350 L439,347 L438,337 L435,337ZM543,314 L555,314 L556,312 L555,307 L545,306 L542,312ZM610,194 L617,188 L605,182 L603,183 L606,193ZM355,393 L350,402 L362,406 L362,397ZM332,393 L330,391 L330,396ZM570,439 L563,448 L565,451 L571,451 L571,445 L570,440ZM530,353 L527,349 L524,349 L521,354 L523,360 L526,361 L529,359ZM384,253 L378,259 L385,267 L390,266 L391,254ZM470,212 L469,212 L469,214ZM492,314 L497,310 L496,305 L491,304 L485,310 L486,312ZM420,331 L411,330 L408,332 L411,339 L420,338 L422,336 L422,334ZM426,229 L426,225 L420,218 L411,223 L412,228 L423,233ZM409,233 L412,228 L411,223 L407,220 L402,222 L399,232ZM449,234 L451,235 L456,231 L455,225 L455,224 L449,226 L446,230ZM488,226 L494,224 L496,221 L491,217 L488,218 L486,223 L487,226ZM400,286 L409,289 L412,282 L406,278 L401,282ZM514,301 L508,295 L503,301 L505,304 L513,303ZM516,362 L523,360 L521,354 L514,354 L513,358ZM330,346 L330,355 L332,356 L331,346ZM353,307 L356,316 L366,314 L365,310 L354,304ZM470,316 L465,311 L462,311 L458,316 L460,318 L469,321ZM418,155 L422,155 L418,155ZM402,222 L407,220 L407,215 L398,211 L394,218 L394,220ZM391,182 L391,181 L380,173 L376,188 L381,189ZM405,244 L404,247 L406,251 L411,252 L415,247 L412,241 L411,241ZM401,282 L406,278 L406,273 L399,269 L397,270 L395,274ZM451,286 L451,282 L446,280 L444,285 L446,288ZM492,396 L494,399 L496,400 L497,401 L499,401 L505,395 L502,391 L497,389ZM465,311 L470,316 L477,313 L478,310 L474,306 L470,306ZM500,373 L502,377 L514,375 L514,370 L507,367ZM463,354 L456,360 L459,363 L468,363 L469,363 L469,354ZM508,272 L505,266 L501,265 L500,265 L499,266 L499,273 L507,274ZM351,330 L344,335 L351,343 L357,341 L359,335ZM412,168 L414,158 L410,157 L405,159 L403,164 L405,168 L406,169ZM489,337 L485,337 L479,345 L483,349 L486,349 L491,343ZM458,382 L456,382 L453,389 L456,396 L465,395ZM346,360 L345,360 L338,367 L345,376 L347,375 L349,366ZM376,279 L383,283 L389,281 L389,278 L383,272 L375,275ZM549,404 L547,413 L558,415 L559,415 L559,413 L557,410 L555,408ZM416,200 L424,203 L427,201 L427,200 L422,193 L416,194ZM466,289 L465,288 L457,288 L456,290 L455,292 L461,296 L466,294ZM397,152 L405,159 L410,157 L409,153 L401,150ZM488,382 L482,372 L479,371 L475,381 L485,384ZM403,164 L394,164 L392,168 L396,174 L405,168ZM421,273 L416,272 L413,282 L421,284 L426,278ZM520,270 L522,275 L526,276 L529,269 L524,266ZM603,238 L603,237 L591,237 L590,239 L593,245 L599,245ZM513,303 L505,304 L505,310 L510,313 L514,307ZM427,200 L433,195 L434,189 L423,188 L422,193ZM371,427 L369,429 L370,429 L373,427ZM379,417 L377,415 L367,417 L366,420 L371,427 L373,427 L378,424 L380,422ZM465,247 L461,244 L457,249 L460,253 L464,252ZM341,334 L340,333 L336,333 L330,339 L332,345 L339,345ZM599,196 L601,203 L609,201 L611,198 L610,194 L606,193ZM410,208 L412,203 L408,197 L399,200 L398,204ZM360,287 L362,298 L368,300 L371,288 L363,286ZM499,220 L504,225 L505,225 L508,217 L501,215ZM484,292 L483,298 L491,302 L493,296 L492,293ZM420,361 L426,365 L429,364 L429,357 L426,354 L421,356ZM386,330 L398,334 L398,333 L393,321 L388,322 L385,327ZM544,302 L545,306 L555,307 L556,306 L551,298ZM493,296 L499,297 L501,291 L495,287 L492,293ZM570,439 L570,440 L570,438ZM520,396 L524,399 L531,395 L532,391 L527,386 L522,389ZM434,211 L432,213 L432,222 L438,224 L439,222 L439,213ZM426,175 L427,172 L426,169 L420,170 L417,171ZM561,428 L560,436 L570,439 L570,438 L570,436 L568,431 L566,427ZM372,346 L368,343 L361,345 L361,353 L366,355ZM359,426 L354,433 L359,438 L361,436 L362,434 L365,432ZM439,400 L429,398 L429,411 L438,407ZM377,408 L382,404 L382,403 L374,396 L373,396 L369,405ZM541,392 L547,390 L546,385 L542,382 L538,384 L537,389ZM368,393 L367,386 L365,385 L354,391 L355,393 L362,397ZM433,370 L424,377 L424,379 L432,382 L437,377ZM427,257 L426,264 L432,266 L436,263 L436,256 L436,254ZM386,365 L382,366 L377,376 L378,378 L388,377 L388,376 L386,365ZM460,372 L458,382 L468,380 L468,373 L466,371ZM430,328 L430,326 L422,321 L420,322 L420,331 L422,334ZM332,420 L330,420 L330,425ZM556,454 L558,455 L560,459 L561,460 L563,458 L565,451 L563,448 L556,446 L555,446ZM587,226 L583,219 L582,219 L576,225 L580,231ZM557,237 L564,236 L561,225 L555,228 L556,237ZM533,252 L535,258 L543,258 L542,247 L541,247ZM426,354 L426,348 L421,346 L417,349 L417,353 L421,356ZM472,325 L473,334 L474,334 L480,334 L481,324 L479,323ZM459,363 L456,360 L451,362 L447,370 L449,371 L458,370ZM532,391 L531,395 L539,402 L541,392 L537,389ZM530,406 L524,401 L523,404 L526,408 L530,410ZM432,266 L433,272 L439,273 L442,271 L442,266 L436,263ZM454,304 L461,308 L464,302 L461,299 L454,303ZM442,389 L443,391 L453,389 L456,382 L452,380 L444,383ZM366,355 L361,353 L357,356 L360,366 L366,366 L368,357ZM491,396 L484,388 L481,391 L480,397 L482,396 L490,396ZM595,298 L593,296 L584,298 L586,306 L590,307ZM537,432 L536,432 L538,434ZM636,143 L642,140 L643,139 L637,132 L630,133 L630,137ZM515,270 L515,278 L519,279 L522,275 L520,270ZM361,266 L358,265 L349,268 L352,276 L362,276ZM439,273 L440,278 L446,279 L447,274 L442,271ZM560,287 L563,279 L558,277 L552,281 L556,287ZM421,311 L424,314 L429,314 L433,309 L432,306 L423,304ZM354,252 L353,252 L345,252 L345,264ZM522,389 L527,386 L527,383 L523,378 L516,379 L514,383ZM406,350 L408,345 L396,339 L395,340 L398,352ZM457,249 L454,249 L451,254 L457,258 L460,253ZM495,319 L501,316 L501,312 L497,310 L492,314ZM473,297 L475,289 L466,289 L466,294 L470,297Z" fill="#CD5C5C" stroke="#CD5C5C" stroke-width="0.6"/>
<path d="M628,168 L631,174 L635,176 L640,174 L640,168 L637,164 L629,166ZM580,233 L586,239 L590,239 L591,237 L592,228 L587,226 L580,231ZM473,249 L479,251 L481,250 L481,244 L472,242 L472,246ZM468,267 L462,269 L466,278 L471,274ZM614,165 L614,166 L612,168 L604,170 L604,171 L608,175 L617,174 L619,169 L618,167ZM426,229 L437,234 L440,229 L438,224 L432,222 L426,225ZM600,307 L600,304 L598,299 L597,299 L595,298 L590,307 L593,310ZM629,197 L631,197 L629,195ZM629,187 L629,195 L632,188 L634,185ZM617,188 L621,184 L621,181 L617,174 L608,175 L605,182 L617,188ZM509,237 L506,236 L503,235 L504,232 L505,230 L503,229 L501,231 L502,237 L506,239 L508,238ZM578,185 L581,182 L581,179 L580,180 L576,184ZM456,190 L446,193 L451,199 L453,200 L455,199 L456,195ZM456,198 L456,196 L455,198ZM546,337 L552,331 L549,325 L548,325 L540,331 L541,335ZM535,229 L537,229 L537,228 L537,224 L532,227 L531,228ZM578,185 L577,192 L586,193 L589,186 L581,182ZM592,179 L595,178 L597,173 L596,173 L588,175ZM633,149 L636,143 L630,137 L624,140 L624,145ZM508,238 L514,242 L518,238 L517,236 L512,238 L509,237ZM533,242 L528,236 L526,236 L523,239 L524,245 L529,246ZM461,183 L466,180 L465,176 L460,175 L457,180ZM641,155 L649,161 L655,158 L655,157 L651,152 L646,151 L646,149ZM508,217 L505,225 L508,225 L509,222 L509,216ZM612,213 L614,210 L609,201 L601,203 L601,204 L607,214ZM506,258 L501,265 L505,266 L512,263 L510,259ZM488,218 L484,214 L480,217 L481,221 L486,223ZM537,228 L548,226 L550,218 L546,214 L545,214 L545,215 L540,221 L537,224ZM504,205 L505,209 L509,210 L507,205 L505,204 L504,204ZM593,289 L593,296 L595,298 L597,299 L594,292 L593,289ZM446,193 L445,190 L438,187 L434,188 L434,189 L433,195 L440,200 L446,193ZM492,253 L497,255 L499,253 L500,248 L498,246 L491,248ZM492,285 L485,287 L483,290 L484,292 L492,293 L495,287ZM496,190 L488,195 L488,201 L495,200 L498,197 L498,195 L498,192ZM614,224 L612,227 L618,224ZM438,224 L440,229 L446,230 L449,226 L445,221 L439,222ZM546,214 L550,218 L558,217 L557,210 L552,206ZM627,157 L621,156 L618,167 L619,169 L628,168 L629,166ZM450,179 L450,180 L457,180 L460,175 L452,173ZM593,313 L584,318 L584,323 L585,323 L590,320 L592,316 L594,315ZM599,245 L593,245 L590,252 L598,253 L601,251ZM546,346 L552,349 L557,348 L556,340 L548,342 L546,346ZM570,194 L569,193 L569,194 L569,195ZM438,337 L447,338 L446,327 L440,327ZM522,310 L522,311 L520,314 L522,320 L525,322 L532,317 L529,312ZM588,278 L583,285 L583,287 L593,289 L592,288 L594,280ZM477,225 L474,225 L471,229 L473,237 L481,235 L481,234 L481,230ZM481,250 L479,251 L479,258 L481,262 L486,261 L487,258 L483,250ZM579,263 L577,263 L574,265 L572,274 L575,277 L576,276 L584,271ZM455,316 L451,308 L444,308 L441,312 L442,315 L449,320ZM544,320 L548,325 L549,325 L555,320 L555,314 L543,314ZM611,198 L619,200 L622,198 L617,188 L610,194ZM514,242 L508,238 L506,239 L505,246 L508,249 L511,249 L515,246ZM565,324 L563,325 L561,330 L565,336 L569,336 L572,332 L569,324ZM443,212 L445,206 L445,205 L441,202 L434,208 L434,211 L439,213ZM625,215 L625,209 L618,207 L614,210 L612,213 L613,213 L623,217ZM478,173 L481,172 L479,172 L477,169 L476,169ZM555,332 L561,330 L563,325 L555,320 L549,325 L552,331ZM612,213 L607,214 L605,223 L612,227 L614,224 L614,220 L610,220 L614,220 L613,213ZM472,180 L474,179 L480,180 L477,176 L474,176ZM477,187 L480,185 L481,181 L479,180 L475,182 L473,185ZM539,279 L534,277 L528,278 L527,281 L530,284 L538,283 L538,282ZM519,247 L518,255 L525,255 L523,246ZM556,306 L563,301 L562,296 L552,293 L551,298ZM445,221 L449,226 L455,224 L455,220 L447,217ZM515,269 L508,272 L507,274 L508,278 L512,279 L515,278 L515,270ZM563,258 L564,263 L574,265 L577,263 L575,255 L566,253ZM475,284 L475,288 L483,290 L485,287 L483,281 L478,279ZM495,276 L498,276 L499,273 L499,266 L490,268 L489,271ZM650,169 L655,166 L656,163 L655,158 L649,161 L648,164ZM633,209 L626,208 L625,209 L625,215 L628,216 L632,215 L634,212ZM621,156 L620,148 L620,150 L618,156ZM480,202 L479,207 L484,212 L489,208 L488,201ZM505,209 L504,205 L501,205 L500,206 L499,206 L497,206 L496,210 L501,214ZM536,293 L530,288 L524,290 L526,297 L528,298ZM486,177 L488,179 L494,177 L488,175 L488,174ZM489,185 L495,188 L489,185ZM486,235 L481,234 L481,235 L483,242 L488,242 L490,239ZM552,293 L547,291 L539,295 L540,299 L544,302 L551,298ZM637,164 L639,156 L634,153 L627,157 L629,166ZM563,258 L566,253 L566,248 L557,246 L554,249 L554,254ZM550,237 L548,226 L537,228 L537,229 L539,233 L546,239ZM539,233 L537,229 L535,229 L528,236 L533,242ZM446,327 L449,325 L449,320 L442,315 L436,322 L440,327ZM477,189 L477,187 L473,185 L473,186 L471,192 L470,195ZM618,167 L621,156 L618,156 L614,165ZM565,236 L567,247 L575,245 L576,243 L574,236 L569,235ZM499,253 L505,256 L508,249 L505,246 L500,248ZM575,255 L577,263 L579,263 L588,257 L588,253 L585,251 L577,253ZM640,174 L635,176 L635,183 L635,182 L641,179 L644,176ZM473,222 L476,216 L472,211 L471,211 L470,212 L469,214 L470,220ZM522,311 L522,310 L523,307 L518,300 L517,299 L514,301 L513,303 L514,307ZM445,205 L445,206 L451,208 L454,206 L453,200 L451,199ZM481,230 L481,234 L486,235 L490,231 L488,226 L487,226ZM555,228 L561,225 L563,221 L562,219 L558,217 L550,218 L548,226ZM572,332 L569,336 L570,338 L575,335 L576,333ZM491,280 L492,285 L495,287 L500,281 L498,276 L495,276ZM533,242 L529,246 L531,251 L533,252 L541,247ZM635,176 L631,174 L621,181 L621,184 L629,187 L634,185 L635,183ZM447,338 L448,338 L455,336 L456,334 L455,328 L449,325 L446,327ZM598,253 L599,258 L601,251ZM595,178 L602,184 L603,183 L605,182 L608,175 L604,171 L597,173ZM469,204 L471,211 L472,211 L479,207 L480,202 L479,200 L472,200ZM603,237 L603,238 L604,239 L603,236ZM479,200 L480,202 L488,201 L488,195 L486,193 L479,192ZM582,316 L574,315 L571,323 L582,326 L584,323 L584,318ZM461,183 L457,180 L450,180 L450,182 L456,190 L460,189 L460,188 L461,186ZM445,190 L450,182 L450,180 L450,179 L449,179 L442,181 L438,187ZM504,282 L500,281 L495,287 L501,291 L504,290 L506,287ZM536,293 L528,298 L529,301 L533,306 L534,306 L540,299 L539,295ZM637,164 L640,168 L648,164 L649,161 L641,155 L639,156ZM498,246 L497,240 L493,238 L490,239 L488,242 L490,247 L491,248ZM480,185 L487,186 L489,185 L488,184 L483,182 L481,181ZM486,177 L482,180 L483,180 L488,179ZM475,289 L475,288 L475,284 L466,280 L465,288 L466,289ZM470,264 L468,259 L462,261 L461,269 L462,269 L468,267ZM467,173 L470,172 L467,173ZM446,193 L440,200 L441,202 L445,205 L451,199ZM556,340 L562,341 L565,336 L561,330 L555,332ZM586,239 L583,243 L585,251 L588,253 L590,252 L593,245 L590,239ZM518,262 L514,264 L515,269 L515,270 L520,270 L524,266 L524,263ZM593,310 L590,307 L586,306 L584,308 L582,316 L584,318 L593,313ZM619,169 L617,174 L621,181 L631,174 L628,168ZM477,274 L478,279 L483,281 L487,278 L487,272 L479,271ZM515,333 L517,332 L517,323 L510,320 L509,321 L509,330ZM556,312 L555,314 L555,320 L563,325 L565,324 L564,314ZM450,182 L445,190 L446,193 L456,190ZM567,247 L565,236 L564,236 L557,237 L557,246 L566,248ZM495,188 L496,190 L498,192 L498,191 L496,188 L495,188ZM471,274 L466,278 L465,279 L466,280 L475,284 L478,279 L477,274ZM495,319 L499,325 L505,321 L501,316 L495,319ZM487,258 L486,261 L496,260 L497,255 L492,253ZM639,156 L641,155 L646,149 L644,142 L642,140 L636,143 L633,149 L634,153ZM593,289 L583,287 L582,288 L581,297 L584,298 L593,296ZM598,253 L590,252 L588,253 L588,257 L591,261 L598,261 L599,258ZM596,189 L589,186 L586,193 L589,198 L597,195ZM552,293 L562,296 L564,291 L560,287 L556,287ZM446,215 L451,212 L451,208 L445,206 L443,212ZM529,301 L523,307 L522,310 L529,312 L533,306ZM519,247 L523,246 L524,245 L523,239 L518,238 L514,242 L515,246ZM604,171 L604,170 L604,171ZM603,238 L599,245 L601,251 L601,250 L602,250 L604,240 L604,239ZM562,296 L563,301 L566,303 L574,299 L571,288 L564,291ZM570,194 L577,193 L577,192 L578,185 L576,184 L571,189 L569,193ZM633,209 L634,212 L635,210 L639,211 L640,208 L635,206ZM488,242 L483,242 L481,244 L481,250 L483,250 L490,247ZM534,306 L533,306 L529,312 L532,317 L533,317 L542,312ZM564,347 L565,345 L565,344 L562,341 L556,340 L557,348 L559,349ZM486,177 L482,172 L481,172 L478,173 L477,176 L480,180 L482,180ZM494,211 L489,208 L484,212 L484,214 L488,218 L491,217ZM596,271 L589,269 L585,271 L588,278 L594,280 L595,275 L596,271ZM511,249 L514,255 L517,256 L518,255 L519,247 L515,246ZM495,200 L488,201 L489,208 L494,211 L496,210 L497,206 L497,205 L496,204ZM511,316 L510,320 L517,323 L522,320 L520,314ZM466,180 L461,183 L461,186 L462,184 L466,182 L469,181ZM462,189 L465,183 L461,188ZM508,217 L509,216 L510,214 L509,210 L505,209 L501,214 L501,215ZM582,326 L571,323 L569,324 L572,332 L576,333 L579,330 L581,327ZM514,255 L510,259 L512,263 L514,264 L518,262 L517,256ZM518,262 L524,263 L526,260 L525,255 L518,255 L517,256ZM566,253 L575,255 L577,253 L575,245 L567,247 L566,248ZM496,260 L500,265 L501,265 L506,258 L505,256 L499,253 L497,255ZM507,274 L499,273 L498,276 L500,281 L504,282 L508,278ZM501,312 L501,316 L505,321 L509,321 L510,320 L511,316 L510,313 L505,310ZM623,217 L613,213 L614,220 L622,218 L623,217ZM622,220 L614,220 L614,224 L618,224 L622,223ZM535,229 L531,228 L524,232 L526,236 L528,236ZM505,225 L504,225 L503,229 L505,230 L506,228 L508,225ZM531,251 L525,255 L526,260 L533,260 L535,258 L533,252ZM528,298 L526,297 L518,300 L523,307 L529,301ZM634,153 L633,149 L624,145 L620,148 L621,156 L627,157ZM490,247 L483,250 L487,258 L492,253 L491,248ZM434,208 L441,202 L440,200 L433,195 L427,200 L427,201ZM487,278 L491,280 L495,276 L489,271 L487,272ZM497,240 L502,237 L501,231 L497,230 L493,233 L493,238ZM584,323 L582,326 L581,327 L582,325 L585,323ZM612,227 L605,223 L599,226 L603,235 L602,230 L605,230 L612,227ZM577,253 L585,251 L583,243 L576,243 L575,245ZM595,178 L592,179 L589,186 L596,189 L602,184ZM504,205 L504,204 L504,203 L503,203 L501,205ZM497,206 L499,206 L497,205ZM495,200 L496,204 L498,199 L498,197ZM492,333 L499,325 L495,319 L487,324ZM556,340 L555,332 L552,331 L546,337 L548,342ZM547,288 L538,282 L538,283 L536,293 L539,295 L547,291ZM470,172 L474,176 L477,176 L478,173 L476,169 L472,171 L470,172ZM569,336 L565,336 L562,341 L565,344 L566,340 L570,338ZM479,192 L486,193 L487,186 L480,185 L477,187 L477,189ZM576,243 L583,243 L586,239 L580,233 L574,236ZM460,175 L465,176 L467,173 L466,173 L460,175ZM574,315 L573,312 L569,310 L564,314 L565,324 L569,324 L571,323ZM488,195 L496,190 L495,188 L489,185 L487,186 L486,193ZM629,197 L631,201 L632,199 L631,197ZM504,204 L505,204 L504,203ZM455,328 L458,325 L460,318 L458,316 L455,316 L449,320 L449,325ZM470,195 L470,196 L472,200 L479,200 L479,192 L477,189ZM480,217 L476,216 L473,222 L474,225 L477,225 L481,221ZM505,331 L509,330 L509,321 L505,321 L499,325ZM648,164 L640,168 L640,174 L644,176 L645,175 L650,169ZM481,244 L483,242 L481,235 L473,237 L472,238 L472,242ZM467,173 L465,176 L466,180 L469,181 L472,180 L474,176 L470,172ZM483,281 L485,287 L492,285 L491,280 L487,278ZM479,258 L479,251 L473,249 L469,257ZM490,231 L493,233 L497,230 L494,224 L488,226ZM594,315 L600,311 L600,307 L593,310 L593,313ZM620,148 L624,145 L624,140 L623,139 L620,148ZM534,277 L533,269 L529,269 L526,276 L528,278ZM498,192 L498,195 L498,192ZM518,238 L523,239 L526,236 L524,232 L518,236 L517,236ZM522,284 L521,288 L524,290 L530,288 L530,284 L527,281ZM498,246 L500,248 L505,246 L506,239 L502,237 L497,240ZM456,334 L464,332 L464,328 L458,325 L455,328ZM581,182 L589,186 L592,179 L588,175 L585,176 L581,179ZM546,214 L552,206 L552,205 L550,206 L544,209 L545,214ZM548,357 L552,356 L552,349 L546,346 L544,352ZM557,210 L561,207 L561,204 L560,204 L552,205 L552,206ZM511,249 L508,249 L505,256 L506,258 L510,259 L514,255ZM486,177 L488,174 L488,171 L484,172 L482,172ZM530,284 L530,288 L536,293 L538,283ZM455,220 L457,217 L456,216 L451,212 L446,215 L447,217ZM584,271 L576,276 L583,285 L588,278 L585,271ZM480,217 L484,214 L484,212 L479,207 L472,211 L476,216ZM493,233 L490,231 L486,235 L490,239 L493,238ZM578,306 L573,312 L574,315 L582,316 L584,308ZM529,246 L524,245 L523,246 L525,255 L531,251ZM486,223 L481,221 L477,225 L481,230 L487,226ZM514,264 L512,263 L505,266 L508,272 L515,269ZM614,210 L618,207 L619,200 L611,198 L609,201Z" fill="#BC8F8F" stroke="#BC8F8F" stroke-width="0.6"/>
<path d="M506,340 L514,336 L515,333 L509,330 L505,331 L502,338 L502,339ZM480,334 L474,334 L476,345 L479,345 L485,337ZM499,325 L492,333 L502,338 L505,331 L499,325ZM498,347 L502,339 L502,338 L492,333 L489,337 L491,343ZM498,347 L503,352 L510,348 L506,340 L502,339ZM517,332 L515,333 L514,336 L518,343 L527,337 L523,332ZM529,338 L527,337 L518,343 L524,349 L527,349 L532,342ZM510,348 L512,348 L518,343 L514,336 L506,340ZM476,345 L474,334 L473,334 L468,336 L465,342 L471,348ZM537,345 L535,342 L532,342 L527,349 L530,353 L537,353Z" fill="#B22222" stroke="#B22222" stroke-width="0.6"/>
<path d="M346,455 L345,458M346,455 L343,450M338,450 L343,450M338,450 L337,452M331,445 L338,450M380,144 L380,145M366,148 L367,149M367,149 L370,145M331,407 L330,402M330,407 L331,407M330,435 L331,435M330,430 L331,435M331,445 L333,437M333,437 L331,435M332,420 L330,420M332,420 L330,425M333,437 L340,436M332,420 L342,425M340,436 L342,425M561,460 L563,458M568,459 L563,458M343,450 L346,442M340,436 L345,439M346,442 L345,439M380,145 L381,147M381,147 L385,146M643,138 L643,139M637,131 L637,132M637,132 L643,139M332,420 L335,410M331,407 L335,410M335,410 L346,415M342,425 L344,424M344,424 L346,415M563,448 L565,451M563,448 L570,439M565,451 L571,451M570,439 L570,440M563,458 L565,451M346,455 L355,456M355,464 L355,456M346,442 L355,445M355,445 L356,455M355,456 L356,455M391,412 L391,414M391,412 L379,417M379,417 L380,422M332,393 L330,396M330,391 L332,393M549,426 L555,424M558,415 L555,424M549,426 L547,425M558,415 L547,413M547,413 L544,415M547,425 L544,415M643,139 L642,140M642,140 L644,142M637,132 L630,133M629,132 L630,133M636,143 L642,140M636,143 L630,137M630,133 L630,137M566,427 L561,428M570,439 L570,438M570,439 L560,436M561,428 L560,436M345,439 L352,433M344,424 L348,425M348,425 L352,433M559,437 L551,433M559,437 L556,446M551,446 L555,446M551,446 L547,439M547,439 L551,433M556,446 L555,446M561,428 L555,424M560,436 L559,437M549,426 L551,433M563,448 L556,446M556,454 L555,446M548,449 L551,446M543,439 L547,439M330,372 L332,367M330,372 L332,379M332,379 L341,381M338,367 L332,367M338,367 L345,376M341,381 L345,376M330,381 L332,379M332,367 L330,363M330,363 L332,356M330,355 L332,356M330,346 L331,346M332,356 L331,346M345,360 L338,367M345,360 L341,355M332,356 L341,355M406,409 L411,401M396,408 L398,409M396,408 L403,397M403,397 L411,401M407,386 L415,392M407,386 L412,380M412,380 L422,381M415,392 L422,389M422,381 L422,389M427,396 L417,404M417,404 L412,401M427,396 L427,395M415,392 L412,401M422,389 L427,395M381,147 L379,155M367,149 L368,154M379,155 L375,157M368,154 L375,157M368,154 L366,155M393,149 L395,151M395,151 L396,150M579,204 L588,201M579,204 L577,193M577,193 L577,192M577,192 L586,193M586,193 L589,198M589,198 L588,201M558,415 L559,415M560,415 L559,415M335,410 L343,401M346,415 L350,413M350,413 L348,403M343,401 L348,403M332,393 L340,393M343,401 L340,393M341,381 L342,389M340,393 L342,389M350,413 L353,415M348,425 L356,421M356,421 L353,415M369,429 L371,427M365,432 L359,426M371,427 L366,420M366,420 L359,423M359,426 L359,423M367,417 L366,420M377,415 L367,417M379,417 L377,415M373,427 L371,427M367,417 L363,407M356,421 L359,423M353,415 L363,407M352,433 L354,433M354,433 L359,426M361,436 L359,438M359,438 L358,441M354,433 L359,438M355,445 L358,442M356,455 L357,455M416,411 L418,407M424,410 L418,407M429,411 L427,412M433,416 L429,411M391,411 L395,408M395,408 L396,408M391,412 L391,411M412,401 L411,401M417,404 L418,407M346,360 L349,366M345,360 L346,360M345,376 L347,375M347,375 L349,366M345,292 L347,295M345,296 L347,295M341,308 L341,307M331,346 L332,345M332,345 L330,339M345,252 L353,252M345,264 L354,252M353,252 L354,252M407,386 L404,387M403,397 L401,394M404,387 L401,394M395,408 L391,395M401,394 L391,395M424,379 L422,381M418,369 L410,374M412,380 L410,374M418,369 L421,371M424,379 L424,377M424,377 L421,371M424,377 L433,370M421,371 L426,365M429,364 L426,365M429,364 L434,367M434,367 L433,370M498,361 L497,372M498,361 L492,358M492,358 L488,361M488,361 L488,369M488,369 L494,372M497,372 L494,372M540,414 L534,417M530,410 L530,406M540,414 L538,403M530,406 L538,403M533,421 L539,428M537,432 L539,428M537,432 L536,432M544,415 L540,414M547,425 L539,428M538,434 L537,432M530,406 L524,401M524,401 L523,404M492,396 L494,399M492,396 L491,396M491,396 L490,396M453,415 L455,413M453,415 L453,416M447,410 L448,407M450,406 L448,407M447,410 L453,415M441,416 L443,412M443,412 L447,410M401,150 L397,152M410,157 L409,153M410,157 L405,159M405,159 L397,152M395,151 L396,152M396,152 L397,152M655,157 L655,158M655,158 L656,163M640,168 L648,164M640,168 L637,164M637,164 L639,156M649,161 L648,164M649,161 L641,155M641,155 L639,156M650,169 L648,164M644,176 L640,174M640,174 L640,168M655,158 L649,161M646,149 L641,155M629,187 L621,184M629,187 L634,185M635,183 L635,176M621,181 L621,184M621,181 L631,174M631,174 L635,176M618,207 L614,210M618,207 L619,200M619,200 L611,198M611,198 L609,201M614,210 L609,201M630,137 L624,140M624,140 L623,139M636,143 L633,149M639,156 L634,153M633,149 L634,153M624,140 L624,145M633,149 L624,145M624,145 L620,148M620,148 L621,156M621,156 L618,156M578,185 L576,184M578,185 L581,182M581,182 L581,179M570,194 L577,193M577,192 L578,185M570,194 L569,193M586,193 L589,186M589,186 L581,182M592,179 L589,186M588,175 L592,179M622,198 L628,198M622,198 L619,200M625,209 L626,208M625,209 L618,207M626,208 L628,198M622,198 L617,188M629,197 L629,195M629,195 L629,187M617,188 L621,184M628,198 L629,197M626,208 L633,209M629,197 L631,201M633,209 L635,206M444,285 L435,284M446,280 L444,285M446,279 L440,278M440,278 L435,283M446,280 L446,279M435,283 L435,284M377,415 L377,408M391,411 L382,404M382,404 L377,408M347,375 L353,378M349,366 L359,367M359,367 L358,377M353,378 L358,377M342,389 L353,390M353,378 L353,390M447,274 L442,271M447,274 L446,279M440,278 L439,273M439,273 L442,271M349,268 L358,265M345,266 L349,268M354,252 L355,253M358,265 L355,253M353,252 L353,244M349,241 L353,244M346,360 L354,355M359,367 L360,366M354,355 L357,356M357,356 L360,366M382,404 L382,403M391,395 L388,394M388,394 L382,403M420,338 L411,339M420,338 L421,346M421,346 L417,349M417,349 L409,344M411,339 L409,344M453,389 L443,391M453,389 L456,396M456,396 L454,399M454,399 L443,396M443,396 L443,391M442,399 L448,407M442,399 L443,396M454,401 L454,399M435,388 L432,382M435,388 L442,389M442,389 L444,383M444,383 L440,377M432,382 L437,377M437,377 L440,377M427,395 L435,388M424,379 L432,382M443,391 L442,389M456,382 L453,389M456,382 L452,380M452,380 L444,383M433,370 L437,377M440,377 L447,370M434,367 L438,365M438,365 L447,370M452,380 L449,371M449,371 L447,370M480,397 L481,391M491,396 L484,388M481,391 L484,388M451,362 L447,370M449,371 L458,370M456,360 L451,362M456,360 L459,363M459,363 L458,370M456,382 L458,382M458,382 L460,372M458,370 L460,372M429,364 L429,357M429,357 L436,353M438,365 L440,358M436,353 L440,358M451,362 L443,357M440,358 L443,357M476,345 L479,345M474,334 L476,345M474,334 L480,334M480,334 L485,337M479,345 L485,337M479,371 L475,381M479,371 L482,372M482,372 L488,382M475,381 L485,384M488,382 L485,384M488,382 L494,372M488,369 L482,372M429,398 L429,411M429,398 L439,400M439,400 L438,407M429,411 L438,407M427,396 L429,398M442,399 L439,400M443,412 L438,407M379,155 L383,158M396,152 L392,158M383,158 L392,158M489,185 L495,188M472,211 L479,207M480,202 L479,207M471,211 L472,211M469,204 L471,211M469,204 L472,200M480,202 L479,200M479,200 L472,200M479,207 L484,212M484,212 L489,208M480,202 L488,201M489,208 L488,201M418,155 L422,155M427,155 L428,159M460,175 L465,176M467,173 L465,176M465,176 L466,180M466,180 L461,183M460,175 L457,180M461,183 L457,180M448,166 L447,162M589,198 L597,195M589,186 L596,189M596,189 L597,195M592,208 L588,201M592,208 L601,204M601,204 L601,203M601,203 L599,196M597,195 L599,196M592,179 L595,178M596,189 L602,184M595,178 L602,184M595,178 L597,173M604,170 L604,171M621,156 L627,157M621,156 L618,167M627,157 L629,166M619,169 L618,167M619,169 L628,168M628,168 L629,166M634,153 L627,157M614,165 L618,167M637,164 L629,166M604,171 L608,175M617,174 L608,175M617,174 L619,169M631,174 L628,168M617,174 L621,181M640,174 L635,176M570,194 L569,195M609,201 L601,203M614,210 L612,213M601,204 L607,214M612,213 L607,214M559,415 L559,413M548,401 L549,404M549,404 L555,408M550,399 L548,401M547,413 L549,404M518,343 L514,336M518,343 L527,337M514,336 L515,333M515,333 L517,332M527,337 L523,332M517,332 L523,332M629,197 L631,197M408,345 L409,344M396,339 L398,334M396,339 L408,345M398,333 L398,334M398,333 L402,331M411,339 L408,332M402,331 L408,332M396,318 L404,320M393,321 L396,318M393,321 L398,333M402,331 L404,320M383,313 L376,321M383,313 L388,322M388,322 L385,327M385,327 L378,327M378,327 L376,321M393,321 L388,322M398,334 L386,330M386,330 L385,327M472,211 L476,216M484,214 L484,212M484,214 L480,217M480,217 L476,216M471,211 L470,212M470,220 L473,222M470,212 L469,214M476,216 L473,222M382,403 L374,396M374,396 L373,396M377,408 L369,405M373,396 L369,405M363,407 L369,405M373,332 L368,333M368,333 L365,331M368,318 L376,321M368,318 L364,326M373,332 L378,327M364,326 L365,331M337,318 L343,321M337,318 L336,318M343,321 L340,333M331,328 L336,333M336,333 L340,333M341,307 L347,309M347,309 L346,320M337,317 L337,318M346,320 L343,321M330,339 L336,333M332,345 L339,345M340,333 L341,334M341,334 L339,345M354,355 L350,345M341,355 L342,349M350,345 L342,349M342,349 L339,345M410,292 L409,289M409,289 L400,286M408,295 L410,292M408,295 L399,296M399,296 L397,288M400,286 L397,288M422,287 L421,284M422,287 L419,293M412,282 L409,289M412,282 L413,282M419,293 L410,292M413,282 L421,284M348,295 L347,295M348,295 L354,288M345,281 L350,280M354,288 L350,280M349,268 L352,276M350,280 L352,276M410,357 L409,360M410,357 L417,353M416,363 L409,360M416,363 L420,361M420,361 L421,356M417,353 L421,356M406,350 L410,357M408,345 L406,350M417,349 L417,353M418,369 L416,363M409,373 L410,374M409,373 L409,360M426,365 L420,361M429,357 L426,354M426,354 L421,356M426,348 L426,354M426,348 L421,346M458,382 L468,380M458,382 L465,395M472,388 L472,383M472,388 L466,396M472,383 L468,380M465,395 L466,396M456,396 L465,395M481,391 L472,388M484,388 L485,384M475,381 L472,383M471,398 L466,396M465,399 L466,396M468,373 L466,371M468,373 L478,371M466,371 L468,363M477,366 L478,371M477,366 L469,363M469,363 L468,363M460,372 L466,371M468,380 L468,373M479,371 L478,371M459,363 L468,363M481,360 L488,361M481,360 L477,366M473,334 L474,334M468,336 L473,334M476,345 L471,348M468,336 L465,342M465,342 L471,348M480,356 L483,349M480,356 L470,353M483,349 L479,345M471,348 L470,353M456,360 L463,354M469,363 L469,354M463,354 L469,354M481,360 L480,356M469,354 L470,353M447,263 L450,265M447,263 L442,266M447,274 L450,273M442,266 L442,271M450,273 L450,265M508,272 L507,274M508,272 L505,266M500,265 L501,265M500,265 L499,266M505,266 L501,265M499,266 L499,273M499,273 L507,274M475,288 L475,284M475,284 L478,279M483,290 L485,287M483,290 L475,288M485,287 L483,281M483,281 L478,279M510,320 L517,323M510,320 L509,321M515,333 L509,330M517,332 L517,323M509,321 L509,330M503,352 L510,348M503,352 L498,347M510,348 L506,340M498,347 L502,339M506,340 L502,339M512,348 L510,348M518,343 L512,348M514,336 L506,340M502,338 L502,339M502,338 L505,331M505,331 L509,330M498,361 L506,363M498,361 L503,353M503,353 L510,359M510,359 L506,363M514,375 L514,370M502,377 L514,375M500,373 L507,367M500,373 L502,377M514,370 L507,367M497,372 L500,373M507,367 L506,363M492,355 L486,349M492,355 L498,347M486,349 L491,343M498,347 L491,343M492,358 L492,355M483,349 L486,349M503,352 L503,353M485,337 L489,337M489,337 L491,343M492,333 L489,337M492,333 L502,338M353,244 L361,239M353,231 L359,231M359,231 L361,239M357,221 L359,221M359,221 L362,226M359,231 L362,226M366,166 L371,170M366,176 L371,170M375,157 L371,170M504,225 L499,220M505,225 L504,225M508,217 L505,225M508,217 L501,215M499,220 L501,215M489,208 L494,211M495,200 L496,204M497,205 L497,206M495,200 L488,201M497,206 L496,210M496,210 L494,211M504,205 L501,205M499,206 L497,206M505,209 L504,205M505,209 L501,214M496,210 L501,214M509,216 L508,217M505,209 L509,210M501,214 L501,215M487,186 L486,193M487,186 L480,185M486,193 L479,192M479,192 L477,189M480,185 L477,187M477,187 L477,189M496,190 L495,188M489,185 L487,186M488,195 L486,193M488,195 L496,190M482,180 L486,177M488,179 L486,177M481,181 L480,185M488,195 L488,201M479,200 L479,192M470,195 L477,189M472,200 L470,196M496,190 L498,192M495,200 L498,197M498,195 L498,192M486,177 L488,174M470,212 L469,212M392,158 L394,164M405,159 L403,164M403,164 L394,164M480,180 L477,176M472,180 L474,176M473,185 L477,187M477,176 L474,176M469,181 L466,180M467,173 L470,172M474,176 L470,172M461,183 L461,186M461,188 L462,189M457,180 L450,180M452,173 L450,179M450,180 L450,179M443,171 L447,168M443,171 L449,179M449,179 L450,179M605,182 L603,183M605,182 L617,188M603,183 L606,193M617,188 L610,194M610,194 L606,193M608,175 L605,182M602,184 L603,183M599,196 L606,193M611,198 L610,194M588,257 L588,253M588,253 L585,251M579,263 L577,263M579,263 L588,257M577,263 L575,255M575,255 L577,253M585,251 L577,253M546,214 L545,214M546,214 L552,206M552,205 L552,206M557,210 L552,206M558,217 L557,210M558,217 L550,218M550,218 L546,214M561,207 L561,204M557,210 L561,207M583,219 L587,213M583,219 L587,226M596,217 L596,225M596,217 L591,212M591,212 L587,213M587,226 L592,228M592,228 L596,225M607,214 L596,217M592,208 L591,212M568,199 L570,203M561,207 L568,209M568,209 L570,203M570,203 L579,204M587,213 L579,207M579,204 L579,207M558,217 L562,219M568,209 L568,210M562,219 L568,210M579,207 L574,212M568,210 L574,212M585,251 L583,243M577,253 L575,245M583,243 L576,243M576,243 L575,245M607,214 L605,223M596,225 L599,226M599,226 L605,223M505,225 L508,225M504,225 L503,229M505,230 L503,229M546,385 L542,382M545,378 L543,379M543,379 L542,382M539,374 L541,369M539,374 L543,379M548,368 L541,369M548,368 L548,369M524,401 L524,399M538,403 L539,402M524,399 L531,395M531,395 L539,402M548,401 L539,402M547,390 L541,392M541,392 L539,402M523,360 L521,354M523,360 L516,362M521,354 L514,354M516,362 L513,358M514,354 L513,358M518,343 L524,349M512,348 L514,354M524,349 L521,354M510,359 L513,358M516,369 L514,370M516,369 L516,362M532,380 L527,383M532,380 L538,384M538,384 L537,389M527,386 L532,391M527,386 L527,383M532,391 L537,389M542,382 L538,384M539,374 L533,374M533,374 L532,380M541,392 L537,389M531,395 L532,391M526,361 L529,359M526,361 L526,370M529,359 L537,362M530,371 L537,364M530,371 L527,370M537,362 L537,364M526,370 L527,370M530,353 L527,349M524,349 L527,349M530,353 L529,359M523,360 L526,361M516,369 L526,370M541,369 L537,364M533,374 L530,371M523,378 L527,383M523,378 L527,370M516,379 L514,375M516,379 L523,378M524,290 L530,288M526,297 L524,290M526,297 L528,298M530,288 L536,293M536,293 L528,298M518,300 L523,307M526,297 L518,300M523,307 L529,301M528,298 L529,301M582,288 L583,287M582,288 L581,297M583,287 L593,289M581,297 L584,298M584,298 L593,296M593,289 L593,296M563,265 L564,263M574,265 L564,263M574,265 L572,274M563,265 L567,274M572,274 L567,274M583,285 L576,276M583,285 L588,278M588,278 L585,271M576,276 L584,271M584,271 L585,271M572,274 L575,277M575,277 L576,276M577,263 L574,265M579,263 L584,271M588,257 L591,261M591,261 L589,269M589,269 L585,271M588,278 L594,280M583,287 L583,285M595,298 L593,296M597,299 L595,298M591,261 L598,261M589,269 L596,271M368,318 L367,315M383,313 L379,309M367,315 L379,309M408,332 L411,330M411,330 L413,320M404,320 L407,318M413,320 L412,319M412,319 L407,318M387,293 L389,300M394,287 L397,288M399,296 L398,298M394,287 L387,293M389,300 L398,298M396,318 L395,311M383,313 L390,309M395,311 L390,309M473,222 L474,225M474,225 L471,229M470,229 L471,229M446,258 L449,255M446,258 L447,263M449,255 L451,254M450,265 L454,264M454,264 L457,258M451,254 L457,258M364,379 L365,385M358,377 L364,379M353,390 L354,391M365,385 L354,391M351,330 L359,335M351,330 L344,335M344,335 L351,343M351,343 L357,341M357,341 L359,335M353,321 L351,322M353,321 L364,326M351,322 L351,330M365,331 L359,335M346,320 L351,322M341,334 L344,335M350,345 L351,343M357,356 L361,353M361,345 L361,353M361,345 L357,341M368,343 L368,333M361,345 L368,343M387,293 L382,290M382,290 L383,283M394,287 L389,281M383,283 L389,281M412,282 L406,278M400,286 L401,282M406,278 L401,282M416,272 L413,282M414,270 L416,272M414,270 L406,273M406,278 L406,273M416,272 L421,273M421,284 L426,278M421,273 L426,278M439,273 L433,272M435,283 L429,278M433,272 L429,278M428,289 L435,286M428,289 L422,287M435,284 L435,286M429,278 L426,278M406,350 L398,352M396,339 L395,340M395,340 L398,352M398,362 L396,354M398,362 L409,360M398,352 L396,354M368,343 L372,346M361,353 L366,355M372,346 L366,355M446,280 L451,282M444,285 L446,288M451,282 L451,286M451,286 L446,288M437,290 L435,286M437,290 L445,291M445,291 L446,288M473,334 L472,325M480,334 L481,324M481,324 L479,323M472,325 L479,323M499,297 L493,296M499,297 L501,291M501,291 L495,287M495,287 L492,293M493,296 L492,293M491,302 L483,298M491,302 L493,296M484,292 L492,293M483,298 L484,292M519,279 L522,275M519,279 L522,284M522,284 L527,281M522,275 L526,276M526,276 L528,278M528,278 L527,281M530,284 L530,288M521,288 L524,290M521,288 L522,284M530,284 L527,281M534,277 L528,278M534,277 L533,269M529,269 L533,269M529,269 L526,276M503,301 L502,301M502,301 L499,297M501,291 L504,290M508,295 L503,301M504,290 L508,295M514,301 L517,299M517,299 L516,290M508,295 L514,301M508,295 L516,290M521,288 L517,289M518,300 L517,299M517,289 L516,290M506,258 L501,265M506,258 L510,259M505,266 L512,263M512,263 L510,259M502,237 L501,231M503,229 L501,231M509,237 L508,238M502,237 L506,239M506,239 L508,238M505,256 L499,253M505,256 L508,249M508,249 L505,246M505,246 L500,248M499,253 L500,248M485,287 L492,285M483,290 L484,292M492,285 L495,287M465,288 L466,289M466,280 L465,288M466,280 L475,284M475,288 L475,289M475,289 L466,289M509,321 L505,321M505,331 L499,325M505,321 L499,325M492,333 L499,325M497,401 L499,401M501,404 L499,401M502,378 L507,384M502,378 L496,385M507,384 L502,391M502,391 L497,389M496,385 L497,389M502,377 L502,378M488,382 L496,385M505,395 L499,401M492,396 L497,389M505,395 L502,391M520,396 L522,389M520,396 L512,397M512,397 L512,385M522,389 L514,383M514,383 L512,385M524,399 L520,396M527,386 L522,389M512,400 L512,397M505,395 L512,397M507,384 L512,385M516,379 L514,383M414,270 L413,262M406,273 L399,269M399,269 L403,261M403,261 L413,262M497,230 L493,233M493,233 L490,231M497,230 L494,224M490,231 L488,226M494,224 L488,226M499,220 L496,221M497,230 L501,231M494,224 L496,221M494,211 L491,217M496,221 L491,217M484,214 L488,218M488,218 L491,217M504,203 L504,204M505,204 L504,204M504,205 L504,204M459,233 L456,231M457,225 L455,225M455,225 L456,231M455,225 L455,224M455,224 L455,220M457,217 L455,220M443,171 L438,171M449,179 L442,181M442,181 L437,175M437,175 L438,171M438,171 L438,170M410,157 L414,158M418,155 L416,158M414,158 L416,158M383,158 L383,169M394,164 L392,168M392,168 L383,169M371,170 L380,173M383,169 L380,173M476,169 L478,173M478,173 L481,172M477,176 L478,173M486,177 L482,172M450,180 L450,182M450,182 L445,190M442,181 L438,187M445,190 L438,187M565,236 L567,247M567,247 L566,248M557,237 L564,236M564,236 L565,236M557,237 L557,246M557,246 L566,248M575,255 L566,253M564,263 L563,258M563,258 L566,253M567,247 L575,245M566,253 L566,248M562,219 L563,221M563,221 L569,223M574,212 L575,215M569,223 L575,215M583,219 L582,219M582,219 L575,215M561,225 L564,236M561,225 L555,228M557,237 L556,237M555,228 L556,237M599,226 L603,235M605,223 L612,227M517,323 L522,320M522,320 L520,314M510,320 L511,316M511,316 L520,314M523,332 L526,326M522,320 L525,322M525,322 L526,326M530,284 L538,283M536,293 L538,283M534,277 L539,279M539,279 L538,282M538,283 L538,282M547,288 L538,282M539,279 L549,279M547,288 L550,280M549,279 L550,280M556,312 L555,314M555,320 L555,314M556,312 L564,314M563,325 L565,324M563,325 L555,320M565,324 L564,314M576,299 L574,299M578,306 L576,299M566,303 L574,299M566,303 L569,310M578,306 L573,312M569,310 L573,312M563,325 L561,330M565,324 L569,324M561,330 L565,336M569,336 L565,336M569,336 L572,332M572,332 L569,324M574,315 L571,323M573,312 L574,315M564,314 L569,310M569,324 L571,323M582,316 L584,318M582,316 L584,308M584,318 L593,313M584,308 L586,306M586,306 L590,307M590,307 L593,310M593,310 L593,313M574,315 L582,316M571,323 L582,326M584,323 L582,326M584,323 L584,318M578,306 L584,308M585,323 L584,323M594,315 L593,313M576,299 L581,297M584,298 L586,306M595,298 L590,307M600,307 L593,310M575,277 L571,287M567,274 L563,278M563,278 L571,287M574,299 L571,288M582,288 L571,288M571,288 L571,287M590,252 L593,245M588,253 L590,252M586,239 L583,243M586,239 L590,239M593,245 L590,239M603,236 L603,237M592,228 L591,237M591,237 L603,237M590,252 L598,253M598,253 L599,258M614,224 L618,224M614,224 L614,220M614,220 L613,213M622,223 L622,220M613,213 L623,217M612,227 L614,224M612,213 L613,213M625,209 L625,215M625,215 L623,217M633,209 L634,212M625,215 L628,216M366,314 L365,310M366,314 L356,316M365,310 L354,304M356,316 L353,307M353,307 L354,304M367,315 L366,314M353,321 L356,316M347,309 L353,307M348,295 L354,302M354,302 L354,304M365,310 L369,302M379,309 L377,303M377,303 L369,302M389,300 L390,309M389,300 L378,301M377,303 L378,301M382,290 L378,292M378,301 L378,292M397,310 L399,302M397,310 L405,311M399,302 L409,305M405,311 L409,305M398,298 L399,302M395,311 L397,310M407,318 L405,311M408,295 L410,304M410,304 L410,305M410,305 L409,305M410,305 L415,312M415,312 L412,319M477,225 L481,221M477,225 L481,230M481,230 L487,226M481,221 L486,223M486,223 L487,226M474,225 L477,225M480,217 L481,221M471,229 L473,237M473,237 L481,235M481,235 L481,234M481,234 L481,230M488,226 L487,226M481,234 L486,235M490,231 L486,235M488,218 L486,223M473,237 L472,238M469,238 L472,238M481,235 L483,242M481,244 L483,242M481,244 L472,242M472,238 L472,242M451,254 L454,249M454,249 L457,249M457,249 L460,253M457,258 L460,253M350,402 L355,393M350,402 L362,406M355,393 L362,397M362,406 L362,397M348,403 L350,402M354,391 L355,393M363,407 L362,406M368,393 L362,397M368,393 L367,386M367,386 L365,385M373,396 L368,393M401,282 L395,274M389,281 L389,278M389,278 L395,274M399,269 L397,270M397,270 L395,274M358,265 L361,266M355,253 L364,253M364,253 L365,263M361,266 L365,263M352,276 L362,276M361,266 L362,276M373,332 L380,340M372,346 L376,346M376,346 L380,340M396,354 L387,352M395,340 L389,342M389,342 L387,352M386,330 L383,339M389,342 L383,339M383,339 L380,340M360,366 L366,366M366,355 L368,357M366,366 L368,357M428,289 L429,296M437,290 L435,298M429,296 L435,298M419,293 L421,299M429,296 L421,299M410,304 L421,300M421,300 L421,299M411,330 L420,331M413,320 L420,322M420,322 L420,331M458,325 L464,328M458,325 L460,318M460,318 L469,321M464,328 L470,324M470,324 L469,321M458,316 L460,318M458,316 L462,311M462,311 L465,311M465,311 L470,316M470,316 L469,321M468,336 L464,332M472,325 L470,324M464,332 L464,328M477,313 L470,316M479,323 L477,313M504,282 L508,278M504,282 L506,287M506,287 L513,286M513,286 L512,279M512,279 L508,278M499,273 L498,276M507,274 L508,278M498,276 L500,281M500,281 L504,282M500,281 L495,287M504,290 L506,287M517,289 L513,286M515,278 L519,279M515,278 L512,279M454,264 L460,269M450,273 L454,275M460,269 L454,275M451,282 L456,278M451,286 L456,290M457,288 L456,290M457,288 L458,280M458,280 L456,278M457,288 L465,288M466,280 L465,279M458,280 L465,279M456,278 L454,275M460,269 L461,269M457,258 L462,261M462,261 L461,269M465,279 L466,278M466,278 L462,269M461,269 L462,269M514,264 L518,262M514,264 L515,269M515,269 L515,270M515,270 L520,270M518,262 L524,263M520,270 L524,266M524,266 L524,263M512,263 L514,264M508,272 L515,269M515,278 L515,270M522,275 L520,270M529,269 L524,266M533,260 L535,267M533,269 L535,267M526,260 L524,263M526,260 L533,260M508,249 L511,249M510,259 L514,255M506,258 L505,256M511,249 L514,255M518,262 L517,256M514,255 L517,256M525,255 L526,260M525,255 L518,255M518,255 L517,256M500,265 L496,260M499,253 L497,255M496,260 L497,255M490,268 L486,261M499,266 L490,268M496,260 L486,261M491,280 L495,276M491,280 L487,278M495,276 L489,271M487,278 L487,272M489,271 L487,272M498,276 L495,276M492,285 L491,280M483,281 L487,278M490,268 L489,271M482,298 L482,309M482,298 L475,299M478,310 L474,306M482,309 L478,310M474,306 L475,299M478,310 L477,313M465,311 L470,306M474,306 L470,306M482,298 L483,298M475,289 L473,297M475,299 L473,297M478,266 L479,271M478,266 L470,264M470,264 L468,267M468,267 L471,274M471,274 L477,274M477,274 L479,271M487,272 L479,271M486,261 L481,262M481,262 L478,266M462,269 L468,267M462,261 L468,259M468,259 L470,264M466,278 L471,274M478,279 L477,274M359,221 L364,210M364,210 L362,209M426,264 L432,266M426,264 L427,257M432,266 L436,263M436,263 L436,256M427,257 L436,254M436,256 L436,254M421,273 L426,264M433,272 L432,266M442,266 L436,263M446,258 L436,256M445,250 L449,255M445,250 L436,253M436,253 L436,254M426,175 L427,172M426,175 L417,171M412,168 L415,170M414,158 L412,168M416,158 L422,164M391,181 L396,176M391,181 L380,173M392,168 L396,174M396,176 L396,174M403,164 L405,168M396,174 L405,168M412,168 L406,169M405,168 L406,169M437,175 L431,179M426,175 L427,178M431,179 L427,178M438,187 L434,188M431,179 L434,188M391,182 L397,191M391,182 L381,189M381,189 L387,196M387,196 L396,193M397,191 L396,193M376,188 L381,189M376,188 L380,173M391,181 L391,182M406,169 L407,178M417,172 L414,178M414,178 L407,178M396,176 L405,180M405,180 L407,178M397,191 L405,187M405,180 L405,187M408,197 L409,190M399,200 L408,197M399,200 L396,193M405,187 L409,190M451,212 L456,216M451,212 L451,208M451,208 L454,206M457,207 L454,206M535,267 L541,269M539,279 L542,269M542,269 L541,269M549,279 L549,271M542,269 L549,271M557,246 L554,249M563,258 L554,254M554,249 L554,254M555,268 L554,268M563,265 L555,268M554,268 L550,259M554,254 L550,259M549,271 L554,268M541,269 L545,259M550,259 L545,259M535,258 L543,258M533,260 L535,258M543,258 L545,259M576,225 L571,225M576,225 L580,231M571,225 L569,235M580,233 L580,231M580,233 L574,236M574,236 L569,235M569,223 L571,225M582,219 L576,225M587,226 L580,231M565,236 L569,235M563,221 L561,225M590,239 L591,237M586,239 L580,233M576,243 L574,236M518,238 L523,239M518,238 L514,242M523,239 L524,245M519,247 L515,246M519,247 L523,246M523,246 L524,245M514,242 L515,246M517,236 L518,238M508,238 L514,242M511,249 L515,246M518,255 L519,247M525,255 L523,246M505,246 L506,239M550,218 L548,226M537,224 L537,228M548,226 L537,228M555,228 L548,226M556,237 L550,237M548,226 L550,237M535,229 L528,236M535,229 L531,228M524,232 L526,236M526,236 L528,236M537,228 L537,229M537,229 L535,229M523,239 L526,236M528,236 L533,242M524,245 L529,246M533,242 L529,246M525,255 L531,251M529,246 L531,251M535,258 L533,252M531,251 L533,252M548,368 L549,366M537,362 L539,360M539,360 L547,361M549,366 L547,361M549,366 L550,366M565,336 L562,341M569,336 L570,338M562,341 L565,344M556,340 L562,341M561,330 L555,332M556,340 L555,332M555,320 L549,325M549,325 L552,331M555,332 L552,331M527,337 L529,338M527,349 L532,342M529,338 L532,342M510,313 L514,307M510,313 L505,310M505,304 L505,310M505,304 L513,303M513,303 L514,307M511,316 L510,313M522,311 L514,307M520,314 L522,311M501,312 L501,316M505,321 L501,316M501,312 L505,310M503,301 L505,304M514,301 L513,303M522,310 L523,307M522,310 L522,311M522,310 L529,312M525,322 L532,317M532,317 L529,312M529,301 L533,306M529,312 L533,306M526,326 L535,328M529,338 L535,329M535,328 L535,329M566,303 L563,301M556,312 L555,307M563,301 L556,306M555,307 L556,306M572,332 L576,333M582,326 L581,327M550,280 L552,281M555,268 L558,277M558,277 L552,281M563,278 L563,279M558,277 L563,279M562,296 L552,293M562,296 L564,291M564,291 L560,287M560,287 L556,287M552,293 L556,287M563,301 L562,296M571,288 L564,291M563,279 L560,287M552,281 L556,287M604,239 L603,238M603,238 L599,245M599,245 L601,251M603,237 L603,238M593,245 L599,245M598,253 L601,251M354,302 L362,298M369,302 L368,300M362,298 L368,300M354,288 L360,287M362,298 L360,287M378,292 L371,288M368,300 L371,288M486,235 L490,239M483,242 L488,242M488,242 L490,239M500,248 L498,246M502,237 L497,240M498,246 L497,240M493,233 L493,238M490,239 L493,238M497,240 L493,238M465,247 L472,246M465,247 L464,252M464,252 L469,257M473,249 L472,246M473,249 L469,257M462,239 L460,241M460,241 L461,244M461,244 L465,247M472,242 L472,246M457,249 L461,244M460,253 L464,252M468,259 L469,257M481,244 L481,250M479,251 L481,250M479,251 L473,249M479,258 L469,257M479,258 L479,251M479,258 L481,262M389,278 L383,272M397,270 L390,266M390,266 L385,267M383,272 L385,267M363,277 L373,274M363,277 L363,286M371,288 L363,286M371,288 L376,279M376,279 L375,275M375,275 L373,274M365,263 L372,265M372,265 L373,274M362,276 L363,277M360,287 L363,286M383,283 L376,279M383,272 L375,275M377,259 L378,259M385,267 L378,259M372,265 L377,259M364,253 L367,250M377,259 L369,250M367,250 L369,250M361,239 L362,239M367,250 L362,239M364,379 L370,374M366,366 L369,369M370,374 L369,369M368,357 L374,358M369,369 L376,364M374,358 L376,364M376,346 L380,352M374,358 L380,352M387,352 L384,353M384,353 L380,352M455,292 L461,296M456,290 L455,292M466,289 L466,294M461,296 L466,294M473,297 L470,297M470,306 L466,302M466,302 L470,297M466,294 L470,297M445,291 L447,296M455,292 L450,296M447,296 L450,296M435,298 L442,300M447,296 L442,300M433,309 L432,306M433,309 L429,314M432,306 L423,304M429,314 L424,314M424,314 L421,311M421,311 L423,304M441,312 L444,308M441,312 L433,309M442,300 L444,308M435,298 L432,306M421,300 L423,304M415,312 L421,311M420,322 L422,321M422,321 L424,314M455,316 L449,320M455,316 L451,308M444,308 L451,308M441,312 L442,315M442,315 L449,320M426,348 L429,347M436,353 L436,350M429,347 L436,350M487,258 L492,253M487,258 L483,250M492,253 L491,248M483,250 L490,247M490,247 L491,248M497,255 L492,253M486,261 L487,258M481,250 L483,250M498,246 L491,248M488,242 L490,247M499,325 L495,319M501,316 L495,319M492,333 L487,324M495,319 L487,324M481,324 L485,323M485,323 L487,324M496,305 L497,310M496,305 L491,304M497,310 L492,314M491,304 L485,310M492,314 L486,312M485,310 L486,312M502,301 L496,305M501,312 L497,310M491,302 L491,304M495,319 L492,314M482,309 L485,310M485,323 L486,312M370,211 L374,202M370,211 L371,213M371,213 L385,213M374,202 L385,203M385,213 L386,205M386,205 L385,203M362,226 L364,225M364,225 L371,216M364,210 L370,211M371,216 L371,213M372,198 L366,197M372,198 L376,188M376,188 L367,184M367,184 L366,184M374,202 L372,198M387,196 L385,203M366,178 L367,184M411,252 L415,247M411,252 L415,260M415,260 L422,252M415,247 L422,250M422,250 L422,252M406,251 L402,259M403,261 L402,259M406,251 L411,252M413,262 L415,260M426,264 L415,260M427,257 L422,252M407,215 L398,211M407,215 L410,208M410,208 L398,204M398,211 L397,205M397,205 L398,204M412,203 L410,208M408,197 L412,203M399,200 L398,204M386,205 L397,205M454,249 L451,244M445,250 L445,245M445,245 L451,244M460,241 L454,241M451,244 L454,241M456,231 L451,235M454,241 L451,235M455,224 L449,226M451,235 L449,234M449,234 L446,230M449,226 L446,230M421,212 L410,208M412,203 L416,200M421,212 L424,203M416,200 L424,203M433,195 L440,200M433,195 L427,200M440,200 L441,202M434,208 L441,202M434,208 L427,201M427,200 L427,201M423,188 L421,184M423,188 L422,193M422,193 L416,194M421,184 L418,183M418,183 L412,190M412,190 L416,194M427,178 L421,184M434,188 L434,189M434,189 L423,188M427,200 L422,193M433,195 L434,189M424,203 L427,201M416,200 L416,194M414,178 L418,183M409,190 L412,190M446,193 L456,190M446,193 L451,199M456,190 L456,195M456,196 L456,198M456,198 L455,198M455,199 L453,200M453,200 L451,199M445,190 L446,193M440,200 L446,193M450,182 L456,190M445,205 L441,202M445,205 L451,199M460,189 L456,190M459,199 L456,198M454,206 L453,200M451,208 L445,206M445,206 L445,205M539,233 L546,239M539,233 L533,242M533,242 L541,247M546,239 L545,245M545,245 L542,247M542,247 L541,247M537,229 L539,233M550,237 L546,239M533,252 L541,247M554,249 L545,245M543,258 L542,247M556,340 L548,342M552,331 L546,337M546,337 L548,342M549,325 L548,325M548,325 L540,331M540,331 L541,335M546,337 L541,335M532,342 L535,342M540,331 L535,329M541,335 L535,342M544,320 L536,324M544,320 L543,314M543,314 L542,312M533,317 L542,312M533,317 L536,324M548,325 L544,320M535,328 L536,324M555,314 L543,314M545,306 L555,307M545,306 L542,312M532,317 L533,317M534,306 L533,306M534,306 L542,312M544,302 L551,298M544,302 L540,299M540,299 L539,295M539,295 L547,291M547,291 L552,293M552,293 L551,298M545,306 L544,302M556,306 L551,298M534,306 L540,299M536,293 L539,295M547,288 L547,291M364,225 L372,229M371,216 L379,225M372,229 L379,225M362,239 L372,236M372,229 L372,236M369,250 L378,241M372,236 L378,241M374,396 L381,389M367,386 L377,384M377,384 L381,389M388,394 L387,390M381,389 L387,390M404,387 L399,383M399,383 L389,388M387,390 L389,388M409,373 L400,372M398,362 L397,363M397,363 L400,372M399,383 L398,376M400,372 L398,376M464,302 L461,299M464,302 L461,308M461,299 L454,303M461,308 L454,304M454,304 L454,303M461,296 L461,299M466,302 L464,302M462,311 L461,308M450,296 L454,303M458,316 L455,316M451,308 L454,304M464,332 L456,334M458,325 L455,328M456,334 L455,328M449,320 L449,325M455,328 L449,325M429,314 L434,323M422,321 L430,326M430,326 L434,323M442,315 L436,322M434,323 L436,322M434,208 L434,211M434,211 L432,213M421,212 L421,214M421,214 L432,213M421,214 L420,218M407,220 L411,223M407,220 L407,215M411,223 L420,218M432,222 L432,213M432,222 L426,225M420,218 L426,225M440,229 L438,224M438,224 L432,222M437,234 L440,229M437,234 L426,229M426,229 L426,225M437,234 L432,241M437,234 L442,240M442,242 L442,240M442,242 L433,247M432,241 L433,247M440,229 L446,230M449,234 L442,240M445,245 L442,242M436,253 L433,247M423,248 L433,247M423,248 L422,250M445,221 L439,222M445,221 L447,217M439,222 L439,213M446,215 L447,217M446,215 L443,212M443,212 L439,213M438,224 L439,222M449,226 L445,221M455,220 L447,217M434,211 L439,213M451,212 L446,215M445,206 L443,212M552,356 L552,349M552,356 L557,357M560,353 L559,349M552,349 L557,348M557,348 L559,349M547,361 L548,357M548,357 L552,356M564,347 L559,349M556,340 L557,348M546,346 L544,352M546,346 L537,345M544,352 L539,354M537,345 L537,353M537,353 L539,354M548,357 L544,352M552,349 L546,346M548,342 L546,346M535,342 L537,345M539,360 L539,354M530,353 L537,353M378,259 L384,253M378,241 L380,242M380,242 L384,253M390,266 L391,254M384,253 L391,254M404,247 L406,251M404,247 L394,250M402,259 L393,253M394,250 L393,253M391,254 L393,253M385,213 L385,214M379,225 L381,225M385,214 L381,225M398,211 L394,218M385,214 L394,218M377,376 L382,366M377,376 L378,378M378,378 L388,377M382,366 L386,365M388,377 L388,376M388,376 L386,365M370,374 L377,376M376,364 L382,366M377,384 L378,378M389,388 L388,377M384,353 L386,365M398,376 L388,376M397,363 L386,365M455,336 L448,338M455,336 L460,343M448,338 L448,347M458,347 L460,343M458,347 L452,350M452,350 L449,349M449,349 L448,347M465,342 L460,343M456,334 L455,336M463,354 L458,347M456,360 L452,350M443,357 L449,349M436,350 L439,347M439,347 L448,347M447,338 L446,327M447,338 L438,337M438,337 L440,327M446,327 L440,327M449,325 L446,327M448,338 L447,338M439,347 L438,337M436,322 L440,327M430,339 L435,337M430,339 L422,336M435,337 L430,328M430,328 L422,334M422,336 L422,334M429,347 L430,339M438,337 L435,337M420,338 L422,336M430,326 L430,328M420,331 L422,334M409,233 L411,241M409,233 L412,228M412,228 L423,233M412,241 L411,241M412,241 L423,237M423,233 L423,236M423,237 L423,236M411,223 L412,228M426,229 L423,233M415,247 L412,241M404,247 L405,244M405,244 L411,241M423,248 L423,237M432,241 L423,236M380,242 L383,239M394,250 L393,240M383,239 L393,240M381,225 L384,227M383,239 L384,227M405,244 L396,237M396,237 L393,240M391,227 L397,234M391,227 L394,220M402,222 L399,232M402,222 L394,220M399,232 L397,234M384,227 L391,227M396,237 L397,234M394,218 L394,220M407,220 L402,222M409,233 L399,232" fill="none" stroke="#000" stroke-width="1.2"/>
<path d="M124,115 L140,118.4 L140,123.6 L136,125.6 L124,121Z" fill="#BC8F8F"/>
<path d="M126,119.6 L137,121.6 L136.4,125.2 L125.6,123.2Z" fill="#FFFFFF"/>
<path d="M117.6,113.6 L123.6,114.4 L124,125 L120,131 L118,137 L113.6,135 L117,129 L119.2,124 L118,119Z" fill="#000000"/>
<path d="M111.6,138 L117,138 L118.4,143 L112,143Z" fill="#B22222"/>
<path d="M140,123 L142,132 L154,134 L148,142 L141,143 L134,136 L136,129 L140,123.6M165.4,123.6 L164,130 L161,136 L164,140 L165,148 L169.6,149 L169.6,158M124,125 L130,127 L135,130M118,137 L128,138 L130,144 L127,144.4M141,143 L140,149M148,142 L154,153" fill="none"/>
<path d="M127,144 L140,149 L140.4,158 L124,157 L124.4,150Z" fill="#BC8F8F"/>
<path d="M141,152 L155,153 L150,159 L141,160.4Z" fill="#BC8F8F"/>
<path d="M151,156.4 L160,156.4 L161.6,162.4 L152,162.4 L149.6,160Z" fill="#FFFFFF"/>
<path d="M164,160 L169,159.6 L169,165 L164.4,165Z" fill="#FFFFFF"/>
<path d="M169.6,158 L174,157.6 L174,162 L170,162.4Z" fill="#FFFFFF"/>
<path d="M101,147.6 L110,147.2 L116,149 L124,157 L140,159 L150,159.6 L152,162.4 L169.6,165" fill="none"/>
<path d="M101,148 L110,147.6 L112.4,156.4 L118,160 L117,170 L115,176 L112.4,186 L106.4,198 L105,204 L90,205 L84,200 L85,190 L92,178 L95,170 L98,160Z" fill="#BC8F8F"/>
<path d="M117,151 L125,150 L124,157 L118,160 L112.4,156.4Z" fill="#BC8F8F"/>
<path d="M103,149 L110,148 L111.6,153 L106,154.4Z" fill="#CD5C5C"/>
<path d="M97.6,169 L103,169 L102.4,174 L97,173.6Z" fill="#B22222"/>
<path d="M89,195 L95.6,195 L96.4,200 L93,204 L88.4,202.4Z" fill="#FFFFFF"/>
<path d="M99,161 L108,163 L117,170M96,168 L106,170 L115,176M93,177 L103,179 L105,186 L112.4,186M108,150 L107,163M103,179 L105,170M85,190 L96,192 L106.4,198M120,161 L137,162.4 L138.4,170 L136,180 L134,189 L130,190M117,170 L120,161" fill="none"/>
<path d="M113,185 L118,177.6 L122.4,178.4 L130,190 L120,187Z" fill="#B22222"/>
<path d="M112.4,186 L108,198 L105,204M130,190 L129,200 L135,204 L134,213.6M137,162.4 L169,166M134,189 L130,190M84,204.4 L90,205 L134,213.6 L158,219M169.6,165 L167,178 L161.6,187 L163,190 L160,198 L158,219" fill="none"/>
<path d="M175,126 L184,128 L182.4,138 L184.4,147 L190,157 L191.4,166 L190,175 L188,182.4 L181,189 L172,190 L164,189 L161.6,187 L167,178 L172,168 L171,158 L171,146 L173,136Z" fill="#B22222"/>
<path d="M172,140 L178,140 L178.4,147 L172.4,147.6Z" fill="#FFFFFF"/>
<path d="M191,153 L198,151 L200,155 L205,154.4 L205,160 L198,162.4 L192,161Z" fill="#B22222"/>
<path d="M190,175 L198,177 L200,170 L191.4,166M200,170 L205,160M158,219 L188,225" fill="none"/>
<path d="M204,131 L296,142 L294,170 L292.4,196 L255,193 L248,191 L247,187 L253,185 L254,181 L260,177 L258,173 L252,176 L247,177 L246.4,168 L242.4,168 L241,176 L238,174 L233,169 L230,163 L222,158 L218,153 L211,150 L210,147 L208,140Z" fill="#B22222"/>
<path d="M296,142 L361,145.6 L362,160 L364,170 L366,187 L336,185.6 L294,183.6 L294,170Z" fill="#B22222"/>
<path d="M181,189 L188,182.4 L198,177 L202,190 L210,196 L222,194 L221,206 L219,230 L208,228 L190,224 L188,214 L180,212 L179,200Z" fill="#B22222"/>
<path d="M218,153.6 L224,151.6 L230,153.6 L231,161.6 L226,160.4 L220,161.6Z" fill="#FFFFFF"/>
<path d="M234,186 L240,177 L245,176 L245,182 L237,189Z" fill="#B22222"/>
<path d="M187,198 L194,196.4 L202,199 L212,204 L204,208 L194,206.4 L188,204Z" fill="#CD5C5C"/>
<path d="M200,210 L208,210 L212,218 L208,222 L202,218Z" fill="#CD5C5C"/>
<path d="M206,223 L212,223 L212.4,230 L206,230Z" fill="#BC8F8F"/>
<path d="M223,189 L221,206 L219,230M223,189 L255,193" fill="none"/>
<path d="M255,193 L292.4,196.4 L291,230 L269,230 L270.4,215 L260,213.6 L260,198Z" fill="#BC8F8F"/>
<path d="M255,214 L270.4,215 L269,229 L254,228 L255,214M312,170 L320,167 L332,167 L333,184M320,183 L321,179 L314,174 L312,170M326,167 L327,184M332,144.4 L338,152 L336,160 L333,167 L338,167 L338,176 L333,176M354,156 L360,156 L360,163 L354,163 L354,156" fill="none"/>
<path d="M355,168 L360,168 L360,177 L355,177Z" fill="#CD5C5C"/>
<path d="M336,185.6 L370,187.4 L370,230 L350,230 L349,220 L343,212 L344,201 L337,198Z" fill="#BC8F8F"/>
<path d="M297,202 L303,202 L303,197 L312,197 L311,215 L292,217M297,202 L297,208 L292,208.4M292.4,196.4 L291,223 L290.4,230M291,223 L348,225.6" fill="none"/>
<path d="M290,223.6 L310,224.4 L310,230 L289.6,230Z" fill="#B22222"/>
<path d="M312,225 L328,225.6 L328,230 L312,230Z" fill="#B22222"/>
<path d="M330,226 L348,226.4 L349,230 L330,230Z" fill="#B22222"/>
<path d="M353.6,155.6 L361,155.6 L361.6,162.4 L353.6,162.4 L353.6,155.6" fill="none"/>
<path d="M362,155.6 L367,155.6 L368,160 L376,159 L376.4,164 L365,164 L362,162.4Z" fill="#B22222"/>
<path d="M355.6,169 L364,169 L364,176 L355.6,176Z" fill="#CD5C5C"/>
<path d="M365,169.6 L370.4,169.6 L370.4,176 L365,176Z" fill="#CD5C5C"/>
<path d="M361,145.6 L379,145.6 L379.6,140 L383,140 L384,146.4 L387,149 L387.6,164 L392.4,168 L393.6,183 L395,188 L403,188 L406,194 L404,204 L398,204 L396,209 L388,208 L389,202 L382,204 L381,193 L368,193 L366,187 L364,170 L362,160Z" fill="#BC8F8F"/>
<path d="M387,149 L400,150 L401,178 L408,179 L409,182 L403,188 L397,187 L395,183 L393.6,170 L388,164Z" fill="#FFFFFF"/>
<path d="M400,150 L404,151 L411,155 L412,174 L408,177 L401,178Z" fill="#BC8F8F"/>
<path d="M411,155 L420,154 L427,155.6 L433,156 L420,166 L412.4,174Z" fill="#FFFFFF"/>
<path d="M381,188.4 L394,188.4 L393,193.6 L381,193.6Z" fill="#FFB6C1"/>
<path d="M408,177 L412,174 L416,174 L415,183 L409,182.4Z" fill="#BC8F8F"/>
<path d="M404.4,187.6 L409,182.4 L415,183 L416,174 L422,171 L424,169 L426.4,174 L430.4,179 L430,196 L423,196 L422,192 L416,192.4 L415,189Z" fill="#B22222"/>
<path d="M429,176 L444,166 L449,161.6 L452,162.4 L447,168 L452,172 L460,174 L470,170 L478,169 L479,172 L487,171 L488,176 L494,177 L494,178.4 L488,179 L480,179 L473,180 L465,182 L460,185 L456,189 L455,186 L452,182 L444,180 L431,179Z" fill="#FFB6C1"/>
<path d="M436,157 L444,151.6 L445,153 L438,158.4Z" fill="#000000"/>
<path d="M84,204 L90,205 L134,213.6 L130,230 L126,244 L120,255 L164,319 L168,338 L164,348 L158,358 L156,368 L134,365 L126,358 L120,340 L116,330 L110,322 L97,314 L96,306 L90,290 L88,278 L82,266 L81.6,250 L79,240 L77,226 L80,214Z" fill="#BC8F8F"/>
<path d="M133,215 L187,225.6 L185,242 L181,258 L178,280 L175.6,295 L154,292 L153,303 L120,255 L126,244 L130,230Z" fill="#FFB6C1"/>
<path d="M154,292 L175.6,295 L173.6,304.4 L165.6,306 L164,319 L153,303Z" fill="#BC8F8F"/>
<path d="M165.6,306 L173.6,304.4 L174.4,295.6 L190,297 L191.6,299.6 L180.4,308 L178.4,316 L176.4,327 L166.4,328.4 L164,319Z" fill="#FFFFFF"/>
<path d="M180.4,308 L191.6,299.6 L210,299.4 L208.4,330 L196.4,330 L190,322 L181,315Z" fill="#FFFFFF"/>
<path d="M90,228.4 L97,219 L110,220 L109,230Z" fill="#CD5C5C"/>
<path d="M99,236 L106,235 L108,244 L100,245 L99,236" fill="none"/>
<path d="M94,250 L120,249 L120,256 L110,259 L94,257Z" fill="#CD5C5C"/>
<path d="M82,249 L92,250 L94,262 L102,262 L103,269 L96,274 L102,286 L100,289 L88,274 L86,266Z" fill="#CD5C5C"/>
<path d="M105,279 L120,273 L126,278 L127,287 L110,289 L104,294 L101,288Z" fill="#CD5C5C"/>
<path d="M105,294 L111,290 L114,291 L112,298 L107,297Z" fill="#FFFFFF"/>
<path d="M98,247 L105,246 L104,252 L99,253Z" fill="#FFFFFF"/>
<path d="M89,252 L93,252 L93,257 L89,257Z" fill="#FFFFFF"/>
<path d="M110,313 L115,312 L117,322 L112,322Z" fill="#CD5C5C"/>
<path d="M90,205 L85,230 L79,238M127,212.4 L122,242 L118,248M85,230 L100,232 L122,230M79,240 L90,242 L98,247M105,246 L118,248M120,256 L126,278M96,274 L108,270 L120,273M90,290 L101,294 L105,294M112,298 L130,302 L153,307M127,287 L130,302 L129,314 L127,330M97,308 L110,313M104,295 L110,313M115,312 L129,314" fill="none"/>
<path d="M186,226 L208,227.6 L212,236 L200,240 L185,239Z" fill="#BC8F8F"/>
<path d="M179,259 L210,264 L209,278 L220,279 L220,288 L210,298 L188,296 L188,289 L178,286Z" fill="#BC8F8F"/>
<path d="M184,240 L210,244 L212,260 L210,264M183,253 L200,257 L202,249 L209,248M176,287 L188,289 L188,295M208,227.6 L210,244" fill="none"/>
<path d="M260,208 L289,208 L289,224 L288.4,242 L276,241.6 L275.6,249 L248,247 L249,239 L253.6,238 L254,228 L269,229 L270,215 L256,214Z" fill="#BC8F8F"/>
<path d="M276,241.6 L288.4,243 L288,251 L275.6,249.6Z" fill="#B22222"/>
<path d="M217,242 L235.6,246.6 L248,247.2 L288,251.4 L309.6,252.8" fill="none"/>
<path d="M288.4,224 L310,225.2 L309.6,252.4 L288,251Z" fill="#B22222"/>
<path d="M310,225.2 L370,228 L370,268 L309,266.4 L309.6,252.4Z" fill="#B22222"/>
<path d="M348,226.4 L370,227.6 L370,248 L354,248 L354,243 L344,242 L343,238 L348,236Z" fill="#CD5C5C"/>
<path d="M344,249 L354,249 L354,258 L344,258Z" fill="#BC8F8F"/>
<path d="M330,226 L330,237 L335,237 L336,243 L342,243 L342,237 L348,236M291,215 L304,215" fill="none"/>
<path d="M296,308 L370,310 L370,327 L350,328 L330,324 L329,317 L296,314Z" fill="#B22222"/>
<path d="M350,316 L356,316 L356,321 L350,321Z" fill="#FFFFFF"/>
<path d="M309,266.4 L307,308M346,308 L346,300 L354,299 L354,294 L364,294" fill="none"/>
<path d="M235.6,247 L266,250 L269,260 L270,266 L266,270 L260,276 L250,272 L249,274 L240,280 L233,281 L234,268Z" fill="#BC8F8F"/>
<path d="M278,251 L293,252 L292,258 L287,259 L286,264 L277,264 L278,260Z" fill="#BC8F8F"/>
<path d="M266,250 L278,251M271,261 L277,261 L277,265 L271,265 L271,261" fill="none"/>
<path d="M269,266 L290,265 L291,275 L286,281 L272,277 L266,279 L264,274Z" fill="#B22222"/>
<path d="M273,277 L286,277 L286,285 L276,286Z" fill="#CD5C5C"/>
<path d="M275,286 L286,285 L284,296 L275,292Z" fill="#B22222"/>
<path d="M233,281 L230,302M230,302 L296,308 L307,308M253,285 L276,286M253,285 L252,298 L257,304M240,280 L250,278 L260,276M234,268 L250,272" fill="none"/>
<path d="M198,228 L212,230 L214,240 L210,242 L198,240Z" fill="#BC8F8F"/>
<path d="M206,223 L212,223 L212,237 L206,236Z" fill="#BC8F8F"/>
<path d="M200,240 L216,242 L214,258 L209,259M200,248 L208,246 L214,258" fill="none"/>
<path d="M245,304 L284,307 L283,318 L280,319 L280,332 L264,332 L264,319 L258,318 L243,315Z" fill="#BC8F8F"/>
<path d="M244,315 L252,314 L258,319 L258,332 L248,332Z" fill="#B22222"/>
<path d="M227,316 L243,315 L248,332 L226,332Z" fill="#BC8F8F"/>
<path d="M210,300 L230,302M230,302 L228,315 L226,330M228,315 L243,315M296,308 L294,330M329,317 L328,330" fill="none"/>
<path d="M344,249 L354,249 L354,258 L344,258Z" fill="#BC8F8F"/>
<path d="M377.6,281.6 L382,281.6 L382,285.6 L377.6,285.6Z" fill="#FFFFFF"/>
<path d="M346,301 L354,300 L354,294 L366,295 L366,303 L360,304 L360,309 L346,308 L346,301" fill="none"/>
<path d="M338,310 L362,310 L364,314 L373,310 L388,312 L388,330 L352,330 L338,324Z" fill="#B22222"/>
<path d="M349.6,316 L356,316 L356,321 L349.6,321Z" fill="#FFFFFF"/>
<path d="M362,312 L372,311 L373,322 L378,324 L378,330 L364,330Z" fill="#CD5C5C"/>
<path d="M352,324 L362,322 L365,330 L352,330Z" fill="#BC8F8F"/>
<path d="M486,310 L500,309 L500,322 L488,322 L485,316Z" fill="#FFFFFF"/>
<path d="M209,310 L206,352 L200,350M228,315 L224,354 L221,380M206,352 L224,354" fill="none"/>
<path d="M205,364 L221,365 L220,379 L204,377Z" fill="#B22222"/>
<path d="M228,316 L245,317 L247,334 L240,337 L239,352 L224,354Z" fill="#BC8F8F"/>
<path d="M245,308 L284,308 L283,318 L280,319 L280,323 L287,329 L284,332 L268,331 L264,330 L264,319 L258,318.4 L252,315.6 L245,315Z" fill="#BC8F8F"/>
<path d="M245,315 L252,316 L253,320 L258,320 L258,332 L268,332 L267,343 L255,342 L247,334Z" fill="#B22222"/>
<path d="M242,363 L253,360 L253,374 L248,376 L242,375.6Z" fill="#B22222"/>
<path d="M295,308 L293,342 L291,377M253,375 L291,377M253,375 L269,376 L267,394M269,376 L269,390M295,327 L316,327.6 L316,340 L304,340 L304,334 L295,333.6M295,314 L328,316" fill="none"/>
<path d="M296,308 L370,308 L370,328 L354,330 L348,327 L340,324 L330,324 L328,316 L296,314Z" fill="#B22222"/>
<path d="M349.6,315.6 L356.4,315.6 L356.4,321 L349.6,321Z" fill="#FFFFFF"/>
<path d="M303,353 L315,352.4 L315.6,358 L309,359 L308,364 L302.4,364Z" fill="#B22222"/>
<path d="M300,371 L306.4,370.4 L306,382 L300,382.4Z" fill="#B22222"/>
<path d="M293.6,376.4 L299.6,376.4 L299.6,382.4 L293.6,382.4 L293.6,376.4" fill="none"/>
<path d="M325,366 L331,365.6 L331.6,372 L336,372.4 L336,378 L325,377.6Z" fill="#B22222"/>
<path d="M311,384 L324,383 L324.4,391 L311,391.6Z" fill="#B22222"/>
<path d="M339,351 L350,350 L350.4,359 L339.6,359.6Z" fill="#B22222"/>
<path d="M348,328 L360,327 L360,353 L354,353 L354,342 L349,340 L348,334Z" fill="#BC8F8F"/>
<path d="M341,340 L349,340 L348,349 L343,349Z" fill="#FFFFFF"/>
<path d="M338,360 L349,359.6 L349,376 L352,380 L343,383 L338,378Z" fill="#BC8F8F"/>
<path d="M349,360 L360,360 L360,376 L352,377 L349,370Z" fill="#B22222"/>
<path d="M305,403 L326,402 L330,410 L332,422 L340,426 L340,432 L320,432 L312,414Z" fill="#BC8F8F"/>
<path d="M347,398 L352,396 L359,400 L358,410 L351,412 L346,406Z" fill="#B22222"/>
<path d="M328,316 L328,340 L340,346 L339,351M314,391.6 L314,402.4M311,378 L325,377.6M330,410 L340,406 L346,406M332,420 L339,420 L340,426" fill="none"/>
<path d="M338,308 L362,308 L364,320 L360,328 L348,329 L338,326Z" fill="#B22222"/>
<path d="M349.6,315.6 L356.4,315.6 L356.4,321 L349.6,321Z" fill="#FFFFFF"/>
<path d="M373,308 L388,308 L388,326 L380,332 L372,330 L370,322Z" fill="#B22222"/>
<path d="M348,329 L360,328 L364,332 L383,332 L390,336 L390,350 L376,353 L369,355 L355,353 L354,342 L349,340Z" fill="#BC8F8F"/>
<path d="M369,355 L390,353 L396,360 L389,368 L390,378 L383,386 L376,380 L370,378 L364,376 L375,368 L374,360Z" fill="#BC8F8F"/>
<path d="M341,340 L349,340 L349,349 L342,349Z" fill="#FFFFFF"/>
<path d="M338,350 L350,351 L350,359 L338,360Z" fill="#B22222"/>
<path d="M349,360 L374,360 L370,370 L364,376 L352,377 L349,368Z" fill="#B22222"/>
<path d="M338,360 L349,360 L349,368 L352,377 L338,382Z" fill="#BC8F8F"/>
<path d="M390,316 L424,316 L428,330 L420,336 L414,332 L406,336 L402,344 L408,348 L404,354 L392,348 L391,336Z" fill="#CD5C5C"/>
<path d="M424,316 L436,315 L438,322 L441,323 L436,330 L434,340 L430,346 L424,336 L428,330Z" fill="#B22222"/>
<path d="M404,336 L410,332 L420,336 L421,343 L414,345 L408,348 L403,343Z" fill="#B22222"/>
<path d="M415,344 L422,344 L423,352 L416,354 L414,349Z" fill="#FFFFFF"/>
<path d="M392,348 L404,354 L416,354 L423,352 L428,346 L429,363 L398,364 L396,360Z" fill="#BC8F8F"/>
<path d="M444,316 L464,314 L462,328 L452,334 L444,342 L434,340 L436,330 L441,323Z" fill="#BC8F8F"/>
<path d="M449,322 L456,323 L458,329 L451,329Z" fill="#CD5C5C"/>
<path d="M462,324 L488,323 L488,331 L463,332.4Z" fill="#FFFFFF"/>
<path d="M394,308 L408,308 L408,315 L394,315Z" fill="#FFFFFF"/>
<path d="M486,308 L502,308 L502,322 L488,323Z" fill="#FFFFFF"/>
<path d="M488,327 L495,326 L495,336 L490,336Z" fill="#FFB6C1"/>
<path d="M430,346 L444,342 L460,334 L462,350 L461,363 L446,364 L430,363Z" fill="#CD5C5C"/>
<path d="M444,342 L446,364" fill="none"/>
<path d="M469,348 L480,342 L488,346 L490,356 L482,360 L478,364 L473,356Z" fill="#B22222"/>
<path d="M469,337 L480,336 L480,342 L470,343Z" fill="#B22222"/>
<path d="M434,364 L444,366 L445,381 L440,390 L444,392 L424,392 L426,384 L431,376Z" fill="#B22222"/>
<path d="M423,392 L438,392 L440,402 L428,405 L424,400Z" fill="#B22222"/>
<path d="M448,385 L456,384 L458,390 L449,392Z" fill="#B22222"/>
<path d="M462,388 L472,386 L480,389 L481,398 L468,398 L463,394Z" fill="#B22222"/>
<path d="M396,366 L428,365 L431,376 L426,384 L420,380 L416,376 L404,377 L398,382 L396,378Z" fill="#CD5C5C"/>
<path d="M411,365 L418,365 L419,374 L413,373Z" fill="#B22222"/>
<path d="M400,377 L414,376 L417,381 L419,389 L423,390 L422,394 L417,395 L416,400 L402,401 L401,390 L398,384Z" fill="#FFFFFF"/>
<path d="M409,383 L416,382 L417,392 L410,393Z" fill="#BC8F8F"/>
<path d="M390,401 L400,401 L402,406 L408,406 L409,412 L400,410 L391,408Z" fill="#BC8F8F"/>
<path d="M378,382 L390,379 L398,384 L400,392 L396,402 L384,401 L379,394Z" fill="#B22222"/>
<path d="M366,404 L386,401 L390,408 L389,414 L380,424 L375,422 L372,412Z" fill="#B22222"/>
<path d="M347,398 L356,396 L360,404 L356,412 L348,410Z" fill="#B22222"/>
<path d="M361,390 L370,389 L371,402 L364,403Z" fill="#B22222"/>
<path d="M354,384 L362,383 L364,390 L357,392Z" fill="#BC8F8F"/>
<path d="M352,416 L370,414 L374,422 L364,428 L352,430Z" fill="#BC8F8F"/>
<path d="M352,423 L362,421 L365,428 L354,430Z" fill="#B22222"/>
<path d="M385,411 L389,411 L388,415 L385,414.4Z" fill="#000000"/>
<path d="M441,323 L436,330 L434,340 L430,346 L429,363 L434,364 L431,376 L426,384 L424,392M461,334 L462,350 L461,363 L462,388M445,381 L460,380" fill="none"/>
<path d="M562,334 L568,333 L568,339 L563,340Z" fill="#B22222"/>
<path d="M570,331 L577,330 L576,335 L571,336Z" fill="#B22222"/>
<path d="M534,411 L542,411 L542,416 L534,416Z" fill="#FFFFFF"/>
<path d="M529,310 L540,310 L540,317 L529,317Z" fill="#FFFFFF"/>
<path d="M571,312 L575,312 L575,317 L571,317Z" fill="#FFFFFF"/>
<path d="M494.5,342 L502,337.5 L509.5,337.5 L515.5,345 L517,352.5 L511,355.5 L503.5,360 L497.5,355.5 L496,349.5Z" fill="#B22222"/>
<path d="M520,345 L526,346.5 L533.5,354 L541,355.5 L541,364.5 L535,367.5 L526,368.2 L527.5,360 L523,354Z" fill="#BC8F8F"/>
<path d="M469,346.5 L475,348 L482.5,345 L484,349.5 L481.8,357 L481,364.5 L476.5,365.2 L472.8,358.5 L473.5,352.5 L469,351Z" fill="#B22222"/>
<path d="M469,337.5 L478,336 L479.5,343.5 L470.5,343.5Z" fill="#B22222"/>
<path d="M461.5,339.8 L469,339.8 L469,346.5 L467.5,352.5 L462.2,354Z" fill="#BC8F8F"/>
<path d="M436,330 L461.5,330 L461.5,334.5 L449.5,336 L448,340.5 L439,340.5 L434.5,342Z" fill="#BC8F8F"/>
<path d="M435.2,365.2 L445,363.8 L445.8,379.5 L436,381.8Z" fill="#B22222"/>
<path d="M430,375 L435.2,372 L436,381.8 L443.5,390 L430,391.5Z" fill="#B22222"/>
<path d="M430,393 L439,392.2 L440.5,402 L430,405Z" fill="#B22222"/>
<path d="M448,385.5 L457,384.8 L457,390.8 L448.8,391.5Z" fill="#B22222"/>
<path d="M463,387.8 L467.5,386.2 L468.2,390 L472,396 L467.5,399 L463.8,396Z" fill="#B22222"/>
<path d="M473.5,389.2 L481,388.5 L481.8,397.5 L475,398.2Z" fill="#B22222"/>
<path d="M492.2,395.2 L497.5,394.5 L503.5,400.5 L503.5,405 L499,402 L494.5,399Z" fill="#B22222"/>
<path d="M517.8,384.8 L523.8,381.8 L526.8,384.8 L530.5,387.8 L518.5,388.5Z" fill="#8B0000"/>
<path d="M505.8,374.2 L511.8,372.8 L517,375.8 L517,380.2 L509.5,380.2 L505.8,381.8Z" fill="#FFFFFF"/>
<path d="M463,329.2 L485.5,329.2 L484.8,332.2 L463,333Z" fill="#FFFFFF"/>
<path d="M487,330 L495.2,330 L495.2,336 L490,336Z" fill="#FFB6C1"/>
<path d="M493,339.8 L496,339.8 L496,342.8 L493,342.8Z" fill="#FFFFFF"/>
<path d="M533.5,411 L541.8,411 L541.8,414.8 L533.5,414.8Z" fill="#FFFFFF"/>
<path d="M537.2,368.2 L542.5,367.5 L544.8,371.2 L538.8,372.8Z" fill="#FFFFFF"/>
<path d="M492.2,363 L498.2,362.2 L498.2,366 L492.2,366Z" fill="#BC8F8F"/>
<path d="M514,360 L520,361.5 L518.5,367.5 L514.8,366Z" fill="#B22222"/>
<path d="M502,293 L511,282 L523,292 L517,299 L510,305 L506,304Z" fill="#B22222"/>
<path d="M529.6,282 L536,281 L537,287 L531,289Z" fill="#FFFFFF"/>
<path d="M537,292 L545,291 L546,297 L540,299Z" fill="#FFFFFF"/>
<path d="M484,310 L500,308 L501,314 L495,316 L494,322 L484,324Z" fill="#FFFFFF"/>
<path d="M529,311 L538,311 L538,317 L529,317Z" fill="#FFFFFF"/>
<path d="M587,256 L591,256 L591,261 L587,261Z" fill="#B22222"/>
<path d="M576,270 L584,272 L592,280 L590,284 L582,280 L577,276Z" fill="#FFFFFF"/>
<path d="M580,256 L584,255 L586,268 L582,268Z" fill="#FFFFFF"/>
<path d="M490,211.9 L495.6,211.9 L495.6,216.2 L490,216.2Z" fill="#B22222"/>
<path d="M495,215.6 L498.8,215.6 L498.8,220 L495,220Z" fill="#FFB6C1"/>
<path d="M480,245.6 L487.5,244.4 L488.1,247.5 L485.6,251.2 L481.2,251.2Z" fill="#B22222"/>
<path d="M495,258.1 L498.8,258.1 L498.8,265 L495,265Z" fill="#FFB6C1"/>
<path d="M518.1,252.5 L522.5,248.8 L527.5,250 L531.2,253.8 L530,260 L526.2,263.8 L523.1,265 L520,260Z" fill="#FFB6C1"/>
<path d="M510,281.2 L515,281.2 L515,285 L510,285Z" fill="#B22222"/>
<path d="M482.5,228.1 L493.8,228.1 L493.8,231.2 L482.5,231.2Z" fill="#FFFFFF"/>
<path d="M498.8,230.6 L503.1,230.6 L503.1,234.4 L498.8,234.4Z" fill="#FFFFFF"/>
<path d="M493.8,248.1 L499.4,248.1 L499.4,251.2 L493.8,251.2Z" fill="#FFFFFF"/>
<path d="M498.8,259.4 L503.8,259.4 L503.8,261.9 L498.8,261.9Z" fill="#FFFFFF"/>
<path d="M483.1,256.9 L486.2,256.9 L486.2,260 L483.1,260Z" fill="#FFFFFF"/>
<path d="M530.6,247.5 L533.1,247.5 L533.1,252.5 L530.6,252.5Z" fill="#FFFFFF"/>
<path d="M551.2,241.9 L555,241.9 L555,247.5 L551.2,247.5Z" fill="#FFFFFF"/>
<path d="M553.8,270 L558.8,270 L558.8,275 L553.8,275Z" fill="#FFFFFF"/>
<path d="M562.5,248.8 L567.5,248.8 L567.5,253.8 L562.5,253.8Z" fill="#FFFFFF"/>
<path d="M567.5,248.8 L572.5,248.8 L572.5,252.5 L567.5,252.5Z" fill="#FFFFFF"/>
<path d="M573.1,230.6 L576.9,230.6 L576.9,235.6 L573.1,235.6Z" fill="#FFFFFF"/>
<path d="M531.2,280.6 L535.6,280.6 L535.6,285 L531.2,285Z" fill="#FFFFFF"/>
<path d="M567.5,217.5 L571.2,217.5 L571.2,220.6 L567.5,220.6Z" fill="#FFFFFF"/>
<path d="M570,211.9 L573.1,211.9 L573.1,216.2 L570,216.2Z" fill="#FFFFFF"/>
<path d="M555.6,242.5 L558.8,242.5 L558.8,246.9 L555.6,246.9Z" fill="#B22222"/>
<path d="M614,167 L620,158 L621,146 L626,130 L636,129 L643,130 L647,150 L660,158 L658,167 L648,173 L640,177 L632,185 L628,190 L624,186 L620,176 L617,170Z" fill="#BC8F8F"/>
<path d="M636,158 L644,156 L645,164 L637,167 L634,163 L636,158M624,146 L630,162 L636,167" fill="none"/>
<path d="M613,167 L617,166 L620,176 L624,186 L628,190 L630,194 L620,198 L616,190 L615,178Z" fill="#CD5C5C"/>
<path d="M569,190 L580,177 L596,174 L598,185 L600,194 L588,198 L586,206 L580,196 L576,198Z" fill="#BC8F8F"/>
<path d="M569,188.4 L576,188.4 L576,195 L570,195.6Z" fill="#CD5C5C"/>
<path d="M430,218 L438,216 L443,218 L442,224 L436,228 L429,225Z" fill="#FFFFFF"/>
<path d="M444.4,207 L448,207 L448,211 L444.4,211Z" fill="#FFB6C1"/>
<path d="M451.6,211 L455,211 L455,215 L451.6,215Z" fill="#FFFFFF"/>
<path d="M411,235 L424,234 L424,240 L411,241Z" fill="#B22222"/>
<path d="M490,212 L495.6,212 L495.6,217 L490,217Z" fill="#B22222"/>
<path d="M495,216 L499,216 L499,220 L495,220Z" fill="#FFB6C1"/>
<path d="M483,182 L488,184 L496,188 L499,191 L499,199 L496,204.4 L491,208 L483,207 L482.4,196 L483,187Z" fill="#FFFFFF"/>
<path d="M478,188 L483,187 L482.4,196 L483,207 L469,209 L469,200 L476,198Z" fill="#BC8F8F"/>
<path d="M468,182.4 L479,180 L480,188 L477,190 L476,197 L469,199Z" fill="#FFFFFF"/>
<path d="M473.6,191 L477,190 L477,196 L474,196.4Z" fill="#000000"/>
<path d="M482,228 L486.4,228 L486.4,231.6 L482,231.6Z" fill="#FFFFFF"/>
<path d="M489,228 L493.4,228 L493.4,231.6 L489,231.6Z" fill="#FFFFFF"/>
<path d="M499,231 L503.4,231 L503.4,234.6 L499,234.6Z" fill="#FFFFFF"/>
<path d="M488,209 L492.4,209 L492.4,212.6 L488,212.6Z" fill="#FFFFFF"/>
<path d="M494,205 L498.4,205 L498.4,208.6 L494,208.6Z" fill="#FFFFFF"/>
<path d="M469,215 L473.4,215 L473.4,218.6 L469,218.6Z" fill="#FFFFFF"/>
<path d="M479,244 L488,244 L488,247 L485,247 L485,250 L482,250 L482,247 L479,247Z" fill="#B22222"/>
<path d="M553.8,411.2 L558.8,410.6 L560.6,421.9 L557.8,423.1Z" fill="#B22222"/>
<path d="M561.2,426.9 L565,426.2 L567.5,433.8 L561.2,434.4Z" fill="#B22222"/>
<path d="M559.4,435.6 L568.8,435 L571.2,445 L570.6,452.5 L567.5,459.4 L563.8,460 L561.9,453.8 L560,445Z" fill="#B22222"/>
<path d="M541.9,420.6 L546.2,419.4 L550,422.5 L552.5,426.9 L543.8,427.8 L542.5,425Z" fill="#BC8F8F"/>
<path d="M533.8,411.2 L542.5,410.6 L542.5,415 L539.4,415.6 L537.5,413.8 L534,414.4Z" fill="#FFFFFF"/>
<path d="M549.4,445 L553.8,443.1 L556.2,446.2 L560.6,446.2 L560.6,451.2 L555,451.9 L550,450Z" fill="#FFFFFF"/>
<path d="M533.8,423.8 L537.5,424.4 L538.1,428.8 L535,429.4Z" fill="#000000"/>
<path d="M298.8,388.8 L342.5,388.8 L347.5,397.5 L346.2,406.2 L356.2,412.5 L351.2,416.9 L346.2,425.6 L331.9,426.2 L330,412.5 L329.4,406.2 L326.2,402.5 L305,403.1 L298.8,402.5Z" fill="#CD5C5C" stroke="none"/>
<path d="M305,403.1 L326.2,402.5 L329.4,406.2 L330,412.5 L332.5,420 L331.9,426.2 L340,426.9 L346.2,425.6 L351.2,416.9 L356.2,412.5 L365,410.6 L370,411.9 L375,420 L377.5,423.8 L370,427.5 L363.8,432.5 L358.8,438.8 L356.9,445 L357.5,455 L358.1,465 L352.5,463.8 L342.5,460 L333.8,456.2 L330,445 L325,433.8 L318.8,426.2 L315,416.2 L310,410Z" fill="#BC8F8F"/>
<path d="M330,408.8 L338.8,405.6 L342.5,406.2 L350,411.9 L352.5,415 L350,420 L346.2,425.6 L340,426.9 L331.9,426.2 L332.5,420Z" fill="#CD5C5C"/>
<path d="M331.9,420 L340,420 L340,426.5" fill="none"/>
<path d="M347.5,397.5 L353.8,395.6 L358.8,398.8 L360,406.2 L356.2,410.6 L351.2,411.2 L346.2,406.2Z" fill="#B22222"/>
<path d="M358.8,388.8 L380,388.8 L381.2,397.5 L380,401.2 L375,405 L366.2,407.5 L360,406.2 L358.8,398.8Z" fill="#CD5C5C"/>
<path d="M362.5,391.2 L370,390.6 L371.2,401.2 L365,402.5Z" fill="#B22222"/>
<path d="M366.2,407.5 L375,405 L380,401.2 L387.5,400.6 L391.2,410 L392.5,413.1 L387.5,416.9 L382.5,421.2 L378.1,423.1 L375,418.8 L372.5,412.5Z" fill="#B22222"/>
<path d="M380,388.8 L401.2,388.8 L401.2,397.5 L396.2,401.2 L387.5,400.6 L381.2,397.5Z" fill="#B22222"/>
<path d="M388.8,401.9 L401.2,400 L401.2,406.2 L392.5,408.8Z" fill="#BC8F8F"/>
<path d="M352.5,426.2 L360,421.2 L363.8,421.2 L365,426.2 L358.8,428.8 L353.8,428.8Z" fill="#B22222"/>
<path d="M350,435 L356.2,433.8 L358.8,438.8 L356.9,441.2 L351.2,440.6Z" fill="#B22222"/>
<path d="M358.8,432.5 L362.5,430 L366.2,427.5 L365,430 L361.2,433.8 L359.4,437.5 L357.8,440 L356.9,439.4Z" fill="#000000"/>
<path d="M384.4,411.9 L388.1,410.6 L389,413.8 L386.2,415.6Z" fill="#000000"/>
<path d="M310.6,388.8 L324.4,388.8 L324.4,391.2 L310.6,391.2Z" fill="#B22222"/>
<path d="M315,391.2 L315,402.5M325,433.8 L337.5,433.1 L338.1,445 L330,445M342.5,458.8 L345,452.5 L348.1,453.1 L350,460M350,460 L352.5,457.5 L356.9,460" fill="none"/>
<path d="M436,264.5 L445,269 L451,267.5 L461.5,266 L462.2,279.5 L460,287 L455.5,290 L457,299 L452.5,303.5 L446.5,302 L439,294.5 L437.5,287 L443.5,282.5 L445,275 L439,272Z" fill="#B22222"/>
<path d="M502,293 L511,281.8 L523.8,291.5 L514,302 L508,306.5Z" fill="#B22222"/>
<path d="M529,282.2 L535.8,282.2 L535.8,288.2 L529,288.2Z" fill="#FFFFFF"/>
<path d="M537.7,291.2 L545.5,291.2 L545.5,297.5 L537.7,297.5Z" fill="#FFFFFF"/>
<path d="M529,311 L539.8,311 L539.8,317.3 L529,317.3Z" fill="#FFFFFF"/>
<path d="M445,264.5 L449.5,264.5 L449.5,269 L445,269Z" fill="#FFFFFF"/>
<path d="M457.8,260 L460.8,260 L460.8,264.5 L457.8,264.5Z" fill="#FFFFFF"/>
<path d="M466.3,292.2 L472.8,292.2 L472.8,297.8 L466.3,297.8Z" fill="#FFFFFF"/>
<path d="M478.8,272 L481.8,272 L481.8,275 L478.8,275Z" fill="#FFFFFF"/>
<path d="M484.8,309.5 L500.5,308 L501.2,312.5 L496,314 L497.5,318.5 L489.2,320 L487,324.5 L485.5,318.5Z" fill="#FFFFFF"/>
<path d="M462.2,323.8 L469,326 L475,323 L488.5,324.5 L487,330.5 L475,332.8 L463,332Z" fill="#FFFFFF"/>
<path d="M487,326.8 L494.5,326 L496,335 L490,336.5Z" fill="#FFB6C1"/>
<path d="M495.2,260 L503.5,260 L503.5,265.2 L496,265.7Z" fill="#FFB6C1"/>
<path d="M521.5,260 L530.5,260 L527.5,265.2 L522.2,264.5Z" fill="#FFB6C1"/>
<path d="M549.5,250 L562.2,250 L561.5,255.2 L552.5,256Z" fill="#FFB6C1"/>
<path d="M530,280.8 L536.3,280.8 L536.3,287.8 L530,287.8Z" fill="#FFFFFF"/>
<path d="M537.8,291.6 L544.7,291.6 L544.7,297.7 L537.8,297.7Z" fill="#FFFFFF"/>
<path d="M553.5,270.6 L558.8,270.6 L558.8,275.8 L553.5,275.8Z" fill="#FFFFFF"/>
<path d="M530,311.2 L539.3,311.2 L539.3,316.3 L530,316.3Z" fill="#FFFFFF"/>
<path d="M576.8,307.9 L581,307.9 L581,311.5 L576.8,311.5Z" fill="#FFFFFF"/>
<path d="M571.4,312.4 L575,312.4 L575,316.8 L571.4,316.8Z" fill="#FFFFFF"/>
<path d="M562.2,334 L569,332.5 L576.5,329.5 L578,331.8 L573.5,336.2 L567.5,340 L563,340Z" fill="#B22222"/>
<path d="M575,271 L581,269.5 L587,274 L590,280 L589.2,286 L585.5,284.5 L581,280 L576.5,277Z" fill="#FFFFFF"/>
<path d="M579.5,272.5 L582.5,272.5 L587.8,280 L586.2,282.2 L581.8,277.8Z" fill="#000000"/>
<path d="M581.8,256 L584,255.2 L587.8,268 L585.8,271 L583.2,265Z" fill="#FFFFFF"/>
<path d="M582.5,257.5 L584,257.2 L587,268 L585.8,269.5Z" fill="#000000"/>
<path d="M588.2,256 L590.3,256 L590.8,261.2 L588.8,261.7Z" fill="#B22222"/>
<path d="M589.2,293.5 L593.8,295 L598.2,301.8 L596,307 L593,304 L593.8,300.2 L590,298Z" fill="#000000"/>
<path d="M591.5,313 L598.2,307 L599.3,308.8 L593.8,314.5Z" fill="#FFFFFF"/>
<path d="M380,270 L480,270 L480,345 L380,345Z" fill="#CD5C5C" stroke="none"/>
<path d="M393.1,282.5 L402.5,277.5 L408.8,278.8 L410,285 L420,283.8 L422.5,291.2 L426.2,292.5 L435,292.5 L441.2,298.8 L438.8,305 L447.5,307.5 L447.5,311.2 L442.5,315 L408.8,315 L408.1,307.5 L406.2,298.8 L398.8,297.5 L393.8,293.8Z" fill="#BC8F8F"/>
<path d="M410,278.8 L414,278.1 L415,284 L411.2,285Z" fill="#CD5C5C"/>
<path d="M406.9,286.2 L411.2,288.8 L420,288.8 L420,283.8" fill="none"/>
<path d="M388.1,295 L393.8,295.6 L398.8,298.8 L398.8,308.8 L408.1,311.2 L408.1,315.6 L393.8,315.6 L393.1,303.8 L388.1,303.8Z" fill="#FFFFFF"/>
<path d="M399.4,298.1 L406.2,296.9 L408.1,307.5 L400,310Z" fill="#CD5C5C"/>
<path d="M422.5,268.8 L436.2,268.8 L435,276.2 L430,277.5Z" fill="#B22222"/>
<path d="M440,268.8 L461.2,268.8 L462.5,281.2 L460,285 L458.8,297.5 L455,303.8 L445,301.2 L442.5,296.2 L437.5,292.5 L441.2,288.8 L445,282.5 L440,278.8Z" fill="#B22222"/>
<path d="M422.5,281.2 L430,277.5 L435,276.2 L440,278.8 L445,282.5 L441.2,288.8 L435,292.5 L426.2,292.5 L422.5,291.2Z" fill="#CD5C5C"/>
<path d="M436.2,300 L442.5,298.8 L445,302.5 L438.8,305.6Z" fill="#CD5C5C"/>
<path d="M462.5,281.2 L467.5,275 L475,276.2 L481.2,280 L481.2,290 L472.5,292.5 L466.2,288.8 L461.2,287.5Z" fill="#BC8F8F"/>
<path d="M460,288.8 L468.8,288.8 L465,293.8 L460,293.1Z" fill="#B22222"/>
<path d="M466.2,295 L471.9,291.9 L473.1,293.8 L468.1,299.4Z" fill="#FFFFFF"/>
<path d="M442.5,315 L447.5,311.2 L466.2,313.8 L465,320 L461.2,325 L462.5,332.5 L450,333.8 L442.5,332.5 L438.8,328.8 L441.2,322.5Z" fill="#BC8F8F"/>
<path d="M450,322.5 L455,323.8 L457.5,328.8 L453.8,328.1Z" fill="#CD5C5C"/>
<path d="M461.9,323.1 L467.5,324.4 L475,322.5 L481.2,323.1 L481.2,332.5 L463.1,332.5Z" fill="#FFFFFF"/>
<path d="M424.4,315.6 L436.9,315 L437.5,322.5 L441.2,322.5 L438.8,328.8 L435,330 L435,340 L430,345 L422.5,345 L421.2,337.5 L427.5,335 L428.1,323.8 L425,322.5Z" fill="#B22222"/>
<path d="M428.1,323.8 L437.5,322.5" fill="none"/>
<path d="M378.8,310 L387.5,310 L388.8,327.5 L378.8,328.8Z" fill="#B22222"/>
<path d="M403.8,338.8 L412.5,331.2 L417.5,335 L421.2,337.5 L422.5,346.2 L403.8,346.2Z" fill="#B22222"/>
<path d="M378.8,328.8 L387.5,327.5 L391.2,332.5 L392.5,346.2 L378.8,346.2Z" fill="#BC8F8F"/>
<path d="M435,330 L438.8,328.8 L442.5,332.5 L450,333.8 L448.8,340 L435,340Z" fill="#BC8F8F"/>
<path d="M380,295 L387.5,294.4 L392.5,293.8M382.5,273.8 L396.2,273.8 L397.5,282.5M382.5,273.8 L383.8,295M388.8,316.2 L424.4,315.6M387.5,310 L388.8,316.2 L389.4,320 L396.2,320 L400,326.2 L407.5,327.5 L412.5,331.2M387.5,327.5 L400,326.2M407.5,327.5 L403.8,338.8 L402.5,345M455,303.8 L447.5,307.5M458.8,297.5 L466.2,295M468.1,299.4 L480,295M460,307.5 L465,303.8 L468.8,305 L467.5,310 L460,310 L460,307.5M466.2,313.8 L472.5,310 L480,311.2M472.5,310 L473.8,302.5 L480,301.2M465,320 L480,322.5M435,340 L462.5,332.5M448.8,340 L450,345M461.2,335 L470,337.5 L480,336.9M470,337.5 L468.8,345" fill="none"/>
<path d="M468.8,337.5 L475,336.9 L478.8,340 L477.5,343.8 L469.4,342.5Z" fill="#B22222"/>
<path d="M461.9,340 L468.1,339.4 L468.8,345 L461.9,345Z" fill="#BC8F8F"/>
<path d="M290,280 L390,280 L390,355 L290,355Z" fill="#CD5C5C" stroke="none"/>
<path d="M307.5,280 L306.2,308.1M290,307.2 L295.6,307.8 L325,309 L387.5,309.8M345,299.4 L353.8,299.4 L353.8,293.8 L366.2,294.4 L366.2,303.8 L359.4,303.8 L359.4,308.8 L352.5,308.8 L352.5,304.4 L345,304.4 L345,299.4M366.2,280 L372.5,283.8 L372.5,289.4 L377.5,289.4 L377.5,283.8 L383.1,283.8 L383.1,295.6 L387.5,295.6 L387.5,309.8" fill="none"/>
<path d="M378.1,281.5 L382.2,281.5 L382.2,285 L378.1,285Z" fill="#FFFFFF"/>
<path d="M388.1,295 L390.6,295 L390.6,303.8 L388.1,303.8Z" fill="#FFFFFF"/>
<path d="M388.1,304.4 L390.6,304.4 L390.6,311.2 L388.1,311.2Z" fill="#BC8F8F"/>
<path d="M295.6,308.1 L325,309 L365,309.8 L361.2,313.8 L362.5,317.5 L365,323.8 L357.5,323.1 L355,321.2 L353.1,326.9 L346.2,328.1 L343.8,326.2 L335,325 L328.8,323.8 L328.1,316.2 L295.6,314.4Z" fill="#B22222"/>
<path d="M349.8,316 L356.2,316 L356.2,321.2 L349.8,321.2Z" fill="#FFFFFF"/>
<path d="M372.5,309.8 L387.5,310 L388.8,326.2 L382.5,330 L377.5,335 L372.5,333.8 L372.5,331.2 L376.2,326.2 L381.9,323.1 L380,316.2 L373.1,317.5Z" fill="#B22222"/>
<path d="M365.6,329.4 L371.2,330 L370.6,332.5 L366.2,332.5Z" fill="#B22222"/>
<path d="M346.9,328.8 L353.1,326.9 L355,321.2 L357.5,323.1 L365,323.8 L366.2,328.8 L372.5,331.2 L372.5,333.8 L377.5,335 L382.5,330 L391.2,328.8 L391.2,356.2 L355,356.2 L353.8,342.5 L348.8,341.9 L349.4,333.8Z" fill="#BC8F8F"/>
<path d="M365,309.8 L361.2,313.8 L362.5,317.5 L365,323.8M295.6,307.8 L294.4,315 L293.1,327.5 L292.5,355M328.8,323.8 L327.5,343.8 L340,350M294.4,326.9 L315.6,327.5 L315.6,340.6 L303.1,340 L303.1,333.8 L294.4,333.1" fill="none"/>
<path d="M340.6,340 L348.8,339.8 L347.5,350 L343.8,349.4Z" fill="#FFFFFF"/>
<path d="M348.8,342.5 L353.8,342.5 L354,351.2 L348.8,351.2 L348.8,342.5" fill="none"/>
<path d="M340,350 L347.5,350 L351.2,356.2 L340,356.2Z" fill="#B22222"/>
<path d="M303.1,352.5 L315.6,352.5 L315.6,356.2 L303.1,356.2Z" fill="#B22222"/>
<path d="M383.8,332.5 L385,342.5 L390,345M353.8,352.5 L360,351.9 L370,353.1 L380,351.9 L390,353.8" fill="none"/>
<path d="M150,170 L250,170 L250,245 L150,245Z" fill="#CD5C5C" stroke="none"/>
<path d="M171.2,168.8 L191.2,168.8 L187.5,176.2 L186.2,183.8 L181.2,187.5 L180,190.6 L170,191.2 L162.5,193.8 L161.9,189.4 L160.6,186.2 L166.2,177.5Z" fill="#B22222"/>
<path d="M191.2,170 L187.5,176.2 L196.2,175.6 L199.4,173.8 L200,170" fill="none"/>
<path d="M181.2,187.5 L186.2,183.8 L187.5,176.2 L196.2,175.6 L200,183.8 L202.5,193.1 L210,193.1 L217.5,191.9 L221.2,193.8 L221.9,207.5 L218.8,216.2 L217.5,228.8 L213.8,230 L212.5,225 L208.8,223.8 L186.2,225 L188.8,218.8 L187.5,213.8 L180,211.2 L181.2,195Z" fill="#B22222"/>
<path d="M193.8,203.1 L198.8,201.2 L198.1,196.2 L201.2,195.6 L203.1,200 L210,200.6 L212.5,205 L217.5,207.5 L219.4,213.8 L215,215 L211.2,208.8 L205,206.2 L200,209.4 L195,207.5Z" fill="#CD5C5C"/>
<path d="M205,213.8 L208.8,213.8 L210,222.5 L206.2,223.8Z" fill="#CD5C5C"/>
<path d="M171.2,200 L180,196.2 L180.6,201.2 L179.4,211.2 L175,211.9 L170.6,207.5 L167.5,206.9 L168.8,205Z" fill="#B22222"/>
<path d="M178.1,213.8 L182.5,213.1 L187.5,213.8 L189.4,216.9 L185.6,220 L183.8,223.8 L178.1,222.5Z" fill="#FFFFFF"/>
<path d="M150,218.5 L156.9,218.8 L186.2,225 L183.8,245 L150,245Z" fill="#FFB6C1" stroke="none"/>
<path d="M150,218.1 L156.9,218.8 L186.2,225 L185,238.1 L184,245" fill="none"/>
<path d="M186.2,225 L208.8,223.8 L207.5,233.8 L212.5,235 L211.2,241.2 L202.5,242.5 L185,238.1Z" fill="#BC8F8F"/>
<path d="M206.2,223.8 L211.2,222.5 L212.5,235 L207.5,233.8Z" fill="#BC8F8F"/>
<path d="M232.5,168.8 L251.2,168.8 L251.2,176.2 L246.2,175 L242.5,177.5 L245,182.5 L237.5,188.8 L233.8,187.5 L237.5,181.2Z" fill="#B22222"/>
<path d="M240,170 L250,170 L250,175 L246.2,174.4 L241.9,176.9Z" fill="#CD5C5C" stroke="none"/>
<path d="M240,170 L241.9,176.9 L246.2,174.4 L250,175.6" fill="none"/>
<path d="M169.4,187.5 L171.9,187.5 L171.9,191.9 L169.4,191.9Z" fill="#000000"/>
<path d="M180,192.5 L182.8,192.5 L182.8,196.9 L180,196.9Z" fill="#000000"/>
<path d="M222.5,188.8 L250,191.2M221.2,193.8 L222.5,188.8 L223.8,188.8 L233.8,187.5M221.9,207.5 L218.8,216.2 L218.1,228.8 L217.5,245M162.5,193.8 L160,201.2 L156.9,218.8M185,238.1 L202.5,242.5 L202.5,245M211.2,241.2 L217.5,241.9M212.5,235 L215,230 L217.5,228.8" fill="none"/>
<path d="M320,330 L440,330 L440,420 L320,420Z" fill="#CD5C5C" stroke="none"/>
<path d="M327.5,330 L328.2,343.5 L336.5,348 L339.5,349.5" fill="none"/>
<path d="M339.5,350.2 L350,350.2 L350,359.2 L339.5,359.2Z" fill="#B22222"/>
<path d="M338.8,360 L350,360 L349.2,369 L348.5,379.5 L342.5,382.5 L337.2,375Z" fill="#BC8F8F"/>
<path d="M325.2,366 L331.2,366 L331.2,372.8 L335.8,372.8 L335.8,378 L325.2,377.2Z" fill="#B22222"/>
<path d="M320,383.2 L323.8,383.2 L323.8,390.8 L320,390.8Z" fill="#B22222"/>
<path d="M340.7,340.2 L348.8,340.2 L347.8,349.5 L344,349.5 L343.2,344.2 L340.7,343.5Z" fill="#FFFFFF"/>
<path d="M347,328.5 L368,328.5 L369.5,334.5 L383,333 L384.5,339 L389.8,343.5 L390.5,352.5 L380,352.5 L368,354 L356,352.5 L353.8,340.5 L349.2,339.8Z" fill="#BC8F8F"/>
<path d="M350.8,354 L361.2,354 L362,359.2 L350.8,360Z" fill="#BC8F8F"/>
<path d="M350,360 L374,360.8 L373.2,367.5 L369.5,375 L363.5,378 L350,376.5 L349.2,369Z" fill="#B22222"/>
<path d="M369.5,355.5 L380,352.5 L390.5,352.5 L395,357 L395.8,364.5 L395,378 L390.5,379.5 L386,385.5 L377,379.5 L369.5,375 L374.8,367.5 L374,360Z" fill="#BC8F8F"/>
<path d="M377.8,371.2 L383,370.5 L384.5,376.5 L379.2,377.2Z" fill="#CD5C5C"/>
<path d="M384.5,366 L387.5,366.8 L389.8,375 L386,376.5M384.5,330 L384.5,339M404,330 L402.5,336" fill="none"/>
<path d="M404,336 L413,331.5 L422,337.5 L420.5,343.5 L413,348 L408.5,348 L402.5,339Z" fill="#B22222"/>
<path d="M414.5,344.2 L422,343.5 L424.2,351 L416,354Z" fill="#FFFFFF"/>
<path d="M392,348 L398,351 L408.5,348 L413,348 L416,354 L424.2,351 L428,345 L429.5,363 L398,364.5 L395.8,357Z" fill="#BC8F8F"/>
<path d="M423.5,328.5 L435.5,328.5 L434,339 L429.5,346.5 L425,339Z" fill="#B22222"/>
<path d="M395.8,365.2 L429.5,363.8 L431,373.5 L425,379.5M396.5,378 L401.8,376.5 L417.5,378 L425,379.5M404.8,365.2 L405.5,376.5" fill="none"/>
<path d="M411.5,365.2 L419,365.2 L419.8,373.5 L414.5,374.2Z" fill="#B22222"/>
<path d="M398.8,380.2 L401.8,376.5 L410,377.2 L417.5,378 L419,388.5 L423.5,390 L422.8,393.8 L418.2,394.5 L417.5,399.8 L401.8,400.5 L401,390Z" fill="#FFFFFF"/>
<path d="M408.5,384.8 L413.8,381.8 L417.5,385.5 L418.2,391.5 L411.5,393.8 L409.2,388.5Z" fill="#BC8F8F"/>
<path d="M377,387 L386,385.5 L390.5,379.5 L396.5,380.2 L398.8,387 L398,399 L392,400.5 L383,399 L378.5,393Z" fill="#B22222"/>
<path d="M346.2,400.5 L350,396 L357.5,396.8 L360.5,403.5 L356,411 L349.2,409.5Z" fill="#B22222"/>
<path d="M363.5,390 L369.5,389.2 L371,402 L365,403.5Z" fill="#B22222"/>
<path d="M355.2,384.8 L361.2,382.5 L364.2,389.2 L358.2,391.5Z" fill="#BC8F8F"/>
<path d="M342.5,390 L352.2,385.5 L362,381 L369.5,375M342.5,390 L347,396M362,381 L377,387M352.2,385.5 L358.2,391.5 L363.5,390M369.5,389.2 L377,387M371,402 L378.5,393M357.5,396.8 L363.5,396" fill="none"/>
<path d="M366.5,405 L375.5,400.5 L387.5,402 L392,409.5 L390.5,417 L384.5,420 L375.5,414Z" fill="#B22222"/>
<path d="M384.2,411 L388.2,410.2 L389,414 L385.2,415.5Z" fill="#000000"/>
<path d="M389.8,401.2 L398,400.5 L398,408 L392,409.5Z" fill="#BC8F8F"/>
<path d="M401,402 L410,402 L411.5,406.5 L404,408Z" fill="#BC8F8F"/>
<path d="M351.5,414 L365,411 L372.5,415.5 L374,421.5 L351.5,421.5Z" fill="#BC8F8F"/>
<path d="M318.5,403.5 L327.5,403.5 L330.5,411 L332,421.5 L318.5,421.5Z" fill="#BC8F8F"/>
<path d="M327.5,403.5 L338,400.5 L346.2,400.5M330.5,411 L339.5,408 L349.2,409.5M356,411 L365,411M360.5,403.5 L366.5,405M435.5,339 L429.5,346.5 L428,363 L431,373.5 L425,379.5 L423.5,390" fill="none"/>
<path d="M434,364.5 L441.5,363.8 L441.5,381 L435.5,382.5Z" fill="#B22222"/>
<path d="M425,379.5 L431,373.5 L434,382.5 L441.5,381.8 L441.5,391.5 L423.5,392.2Z" fill="#B22222"/>
<path d="M423.5,393 L437,391.5 L438.5,400.5 L429.5,405 L425,402Z" fill="#B22222"/>
<path d="M401.8,400.5 L401,408 L410,402M417.5,399.8 L425,402M411.5,406.5 L416,402 L417.5,399.8M413,409.5 L422,408 L429.5,405M438.5,400.5 L440,408M434,339 L440,340.5M431,354 L440,352.5" fill="none"/>
<path d="M548.7,253.2 L555,248.2 L563.2,243.8 L569.7,237.8 L576,235.1 L582.3,234.4 L583.8,238.8 L579,242.2 L573.8,246.8 L568.5,252 L561.8,255.3 L555,257.7 L549.8,257.1Z" fill="#FFB6C1"/>
<path d="M604.2,218.8 L615.5,218.8 L615.5,221.8 L605,222.5Z" fill="#B22222"/>
<path d="M616.2,194.8 L621.5,194 L622.2,197.8 L617,198.5Z" fill="#B22222"/>
<path d="M585.5,255.5 L590.8,255.5 L590.8,260 L585.5,260Z" fill="#B22222"/>
<path d="M602.8,204.5 L606.5,204.5 L606.5,209.8 L602.8,209.8Z" fill="#FFFFFF"/>
<path d="M607.2,202.7 L611.8,202.7 L611.8,205.2 L607.2,205.2Z" fill="#FFFFFF"/>
<path d="M612.5,201.8 L615.5,201.8 L615.5,204.2 L612.5,204.2Z" fill="#FFFFFF"/>
<path d="M603.5,213.5 L607.2,213.5 L607.2,218 L603.5,218Z" fill="#FFFFFF"/>
<path d="M569,212 L572.8,212 L572.8,216.5 L569,216.5Z" fill="#FFFFFF"/>
<path d="M567.5,218 L571.2,218 L571.2,220.2 L567.5,220.2Z" fill="#FFFFFF"/>
<path d="M573.5,230 L576.5,230 L576.5,236 L573.5,236Z" fill="#FFFFFF"/>
<path d="M563,248 L566.8,248 L566.8,254 L563,254Z" fill="#FFFFFF"/>
<path d="M567.5,248.8 L571.7,248.8 L571.7,252.8 L567.5,252.8Z" fill="#FFFFFF"/>
<path d="M591.5,251.8 L596,251.8 L596,255.5 L591.5,255.5Z" fill="#FFFFFF"/>
<path d="M560,255.5 L566,255.5 L566,259.2 L560,259.2Z" fill="#FFFFFF"/>
<path d="M626,175.2 L630.2,175.2 L630.2,179.3 L626,179.3Z" fill="#FFFFFF"/>
<path d="M348.5,188.5 L381.5,188.5 L386,194.5 L390.5,194.5 L392,188.5 L404,188.5 L404,203.5 L398,205 L395,209.5 L389,206.5 L383,208 L382.2,218.5 L368,218.5 L356,215.5 L355.2,227.5 L348.5,229Z" fill="#BC8F8F"/>
<path d="M381.5,190 L390.5,190 L389.8,193.8 L381.5,193.8Z" fill="#FFB6C1"/>
<path d="M367.2,193 L368,218.5" fill="none"/>
<path d="M367.2,220 L397.2,220 L398,235 L375.5,236.5 L372.5,227.5 L367.2,226Z" fill="#B22222"/>
<path d="M403.2,232 L407,231.2 L407.8,226.8 L412.2,226.8 L412.2,235 L403.2,235.8Z" fill="#BC8F8F"/>
<path d="M410.8,236.5 L423.5,235 L424.2,239.5 L411.5,241Z" fill="#B22222"/>
<path d="M395.8,236.5 L400.2,236.5 L400.2,241 L395.8,241Z" fill="#B22222"/>
<path d="M415.2,241.8 L419.8,241 L419.8,249.2 L415.2,249.2Z" fill="#BC8F8F"/>
<path d="M416,188.5 L429.5,188.5 L429.5,196 L423.5,196 L420.5,193.8Z" fill="#B22222"/>
<path d="M443.8,207.2 L447.5,207.2 L447.5,211 L443.8,211Z" fill="#FFB6C1"/>
<path d="M452,211 L455,211 L455,214.8 L452,214.8Z" fill="#FFFFFF"/>
<path d="M458,257.5 L461,257.5 L461,265 L458,265Z" fill="#FFFFFF"/>
<path d="M444.5,265 L449,265 L449,268.8 L444.5,268.8Z" fill="#FFFFFF"/>
<path d="M429.5,218.5 L437,215.5 L443,217 L443,223 L440,227.5 L435.5,226 L429.5,226.8Z" fill="#FFFFFF"/>
<path d="M429.5,232 L440,232.8 L446,239.5 L449,247 L443,250 L437,247 L434,241Z" fill="#BC8F8F"/>
<path d="M362.8,248.5 L367.2,245.5 L372.5,247 L374,254.5 L365,256Z" fill="#BC8F8F"/>
<path d="M348.5,254.5 L357.5,253.8 L366.5,256 L374,257.5 L378.5,268 L348.5,266.5Z" fill="#B22222"/>
<path d="M357.5,254.5 L366.5,256 L366.5,259.8 L359,259.8Z" fill="#CD5C5C"/>
<path d="M380.8,267.2 L390.5,266.5 L391.2,271 L381.5,272.5Z" fill="#BC8F8F"/>
<path d="M420.5,257.5 L426.5,251.5 L435.5,250 L437,256 L436.2,265 L440,274 L431,277 L425,272.5 L420.5,265Z" fill="#B22222"/>
<path d="M440,269.5 L449,268 L453.5,265.8 L461.8,265.8 L462.5,281.5 L440,281.5Z" fill="#B22222"/>
<path d="M447.5,250 L453.5,250 L453.5,256 L447.5,256Z" fill="#B22222"/>
<path d="M455,250.8 L461,250.8 L461,256.8 L455,256.8Z" fill="#B22222"/>
<path d="M365,224.5 L369.5,235 L372.5,247 L377,262 L382.2,274 L384.5,280M374,258.2 L402.5,258.7 L419,259.3M422,218.5 L423.5,230.5 L428,233.5 L425,239.5 L423.5,250 L419,259 L420.5,265M398,219.2 L422,218.5M416,190 L416,202 L420.5,211 L423.5,214 L422,218.5M398,220 L398,235" fill="none"/>
<path d="M179,317 L190,324 L197,330 L195,337 L188,339 L177,335Z" fill="#BC8F8F"/>
<path d="M166,332 L176,332 L177,336M195,337 L198,338 L200,346 L205,354 L206,362M164,337 L160,347 L173,350 L175,337M173,350 L173,357 L205,362M164,337 L166,332" fill="none"/>
<path d="M161,341 L164,337 L166,332.4 L176,332.4 L175,337 L173,350 L160,347Z" fill="#CD5C5C"/>
</g>
<use href="#o" fill="none" stroke="#000" stroke-width="1.2" stroke-linejoin="round"/>
<path d="M126.2,374.5 L140,382.5 L155,386.2 L170,391.2 L178.8,395 L175,425 L172.5,445 L170,460 L165,461.2 L157.5,460 L152.5,456.2 L147.5,452.5 L144.5,456.2 L140,453 L143.8,458 L137.5,460.5 L128.8,460 L130,453.8 L135,449.5 L132.5,448.8 L125,456.2 L121.2,461.2 L119.5,465.5 L114.5,470 L109,474.5 L101.2,477 L93,480 L85,482.5 L76.2,484.2 L71.2,482.5 L75,479.5 L85,475.5 L95,471.2 L101.2,466.2 L106.2,461.2 L108.8,458.2 L102.5,460 L97.5,456.2 L90,457.5 L88.8,450 L83.8,446.2 L80,440 L77.5,433.8 L82.5,431.2 L85,426.2 L92.5,424.5 L95,421.2 L101.2,420 L102.5,416.2 L96.2,416.2 L90,416.2 L82.5,413.8 L78.8,408.8 L77.5,405 L85,402.5 L93.8,401.2 L96.2,405 L102.5,406.2 L101.2,400 L95,395 L91.2,388.8 L88,385 L97.5,383.8 L105,378 L115,377Z" fill="#BC8F8F" stroke="#000" stroke-width="1.2"/>
<path d="M145.5,422.5 L155,421.2 L163.8,425.5 L162.5,428.8 L150,429.5 L146.2,426.2Z" fill="#CD5C5C" stroke="#000" stroke-width="1.2"/>
<path d="M127.5,436.2 L140,434.5 L151.2,435 L151.2,443.8 L143.8,447.5 L140,450 L132.5,445 L126.2,443.8Z" fill="#8B0000" stroke="#000" stroke-width="1.2"/>
<path d="M113.8,471.2 L120,466.2 L125,465 L123.8,471.2 L117.5,475.5Z" fill="#BC8F8F" stroke="#000" stroke-width="1.2"/>
<path d="M71.2,442.5 L76.2,441.2 L77.5,445 L73.8,446.2Z" fill="#BC8F8F" stroke="#000" stroke-width="1.2"/>
<path d="M60,415.5 L65,414.5 L71.2,419.5 L67.5,421.2 L62.5,418Z" fill="#BC8F8F" stroke="#000" stroke-width="1.2"/>
<path d="M50,434.2 L53,435 L52.5,437 L50,436.2Z" fill="#000000" stroke="#000" stroke-width="1.2"/>
<path d="M28,488.5 L33.8,488.5 L33.8,490.5 L28,490.5Z" fill="#000000" stroke="#000" stroke-width="1.2"/>
<path d="M53,488.8 L60,485.5 L66.2,484.5 L65.5,487.5 L58.8,489.5 L53.8,490.5Z" fill="#000000" stroke="#000" stroke-width="1.2"/>
<path d="M89.5,482 L92.5,481.5 L91.5,484Z" fill="#000000" stroke="#000" stroke-width="1.2"/>
<path d="M193,440.5 L200,438 L200,441.2 L195,442.5Z" fill="#000000" stroke="#000" stroke-width="1.2"/>
<path d="M71,360 L72.5,360 L72.5,361.5 L71,361.5Z" fill="#000000" stroke="#000" stroke-width="1.2"/>
<path d="M166.8,461 L175,460.7 L177.2,465.5 L182.5,471.5 L188.5,466.7 L192.2,473 L196,480.5 L200.5,488 L205.8,494 L206.5,500 L192.2,500 L188.5,491 L184.8,482 L182.5,476 L178,470 L173.5,467 L169,464Z" fill="#000000" stroke="#000" stroke-width="1.2"/>
<path d="M167.5,461.3 L174.7,461.3 L176.8,465.8 L180.2,469.7 L178.8,470.3 L173.8,466.7 L169.3,463.7Z" fill="#BC8F8F"/>
<path d="M186.2,470 L188.5,468.8 L190,473 L187.8,473.8Z" fill="#BC8F8F"/>
<path d="M184,478.2 L186.2,477.5 L187.8,482 L185.8,482.8Z" fill="#BC8F8F"/>
<path d="M190.8,480.5 L192.7,479.8 L194.2,483.5 L192.1,484.4Z" fill="#BC8F8F"/>
<path d="M193.8,489.5 L196,488.8 L197.5,492.5 L195.4,493.4Z" fill="#BC8F8F"/>
<path d="M198.2,491 L200.2,490.2 L202,494 L199.9,494.9Z" fill="#BC8F8F"/>
<path d="M194.2,495.5 L196.3,494.9 L197.5,499.2 L195.4,499.7Z" fill="#BC8F8F"/>
<path d="M202,495.5 L204.2,494.9 L205,499.2 L202.9,499.7Z" fill="#BC8F8F"/>
<path d="M203.5,437.8 L206.5,436.2 L209.5,436.7 L209.5,440 L207.2,441.8 L204.2,440Z" fill="#CD5C5C" stroke="#000" stroke-width="1.2"/>
<path d="M197.5,439.2 L200.5,438.2 L200.2,440.8 L197.8,441.5Z" fill="#000000" stroke="#000" stroke-width="1.2"/>
<path d="M192.8,441.8 L193.9,441.8 L193.9,442.9 L192.8,442.9Z" fill="#000000" stroke="#000" stroke-width="1.2"/>
<path d="M221.5,447.2 L224.5,445.2 L226.8,447.5 L228.7,449.3 L228.2,452.3 L225.2,452 L222.2,449.8Z" fill="#B22222" stroke="#000" stroke-width="1.2"/>
<path d="M232.8,453.8 L238,453.5 L240.2,455 L236.5,455.8 L233.5,455.4Z" fill="#FFFFFF" stroke="#000" stroke-width="1.2"/>
<path d="M236.5,457.7 L238.8,457.7 L238.8,460.2 L236.5,460.2Z" fill="#FFFFFF" stroke="#000" stroke-width="1.2"/>
<path d="M241,457.2 L244,458.3 L248.5,459.5 L248.8,462.5 L244,463.7 L241.8,462.5 L239.5,464 L239.2,462.5 L241.8,461Z" fill="#FFFFFF" stroke="#000" stroke-width="1.2"/>
<path d="M250,468.5 L253.8,470 L257.5,473 L259.8,476.8 L261.7,479.8 L259,482 L254.5,484.2 L250.8,487.2 L247.8,485 L247,479 L246.2,475.2 L248.5,472.2Z" fill="#CD5C5C" stroke="#000" stroke-width="1.2"/>
<path d="M755.5,511.5 L762,509 L772,507 L777.8,507.2 L778,510 L776,513.5 L770,515.5 L764,517.5 L758,519 L756,515Z" fill="#000000" stroke="#000" stroke-width="1.2"/>
<path d="M764.5,509.5 L776,508 L775.5,511 L772,512.5 L766,512.8Z" fill="#C82828"/>
<path d="M758,516.2 L760,515.8 L760,517.5 L758.2,518Z" fill="#C82828"/>
<path d="M757,512 L759.5,512 L759.5,514 L757,514Z" fill="#FFFFFF"/>
<path d="M760,510.8 L763,510.8 L763,512 L760,512Z" fill="#FFFFFF"/>
<path d="M767.5,513.8 L770,513.8 L770,515 L767.5,515Z" fill="#FFFFFF"/>
<path d="M747,519 L749,519 L749,520.8 L747,520.8Z" fill="#000000"/>
<path d="M780,506 L782,506 L782,507.8 L780,507.8Z" fill="#000000"/>
<path d="M783.5,505 L789,504 L787,506.5 L784.5,506.2Z" fill="#000000"/>
<path d="M788,512 L792.5,511 L791,513.5 L788.2,514Z" fill="#000000"/>
<path d="M778.5,509.5 L781.5,509 L780,511Z" fill="#000000"/>
<path d="M751.8,513.8 L752.8,513.8 L752.8,514.8 L751.8,514.8Z" fill="#000000"/>
<path d="M552.5,468.8 L555,467.1 L558.8,467.2 L562.5,465.2 L566.2,463.1 L567.5,463.8 L563.1,466.5 L558.8,468.5 L555,468.8 L553.1,469.8Z" fill="#000000"/>
<path d="M564.4,459.4 L568.1,456.9 L570,457.5 L568.1,460.6 L564.8,461.9Z" fill="#000000"/>
<path d="M436,157 L444,151.6 L445.2,152.8 L438,158.6Z" fill="#000000"/>
<path d="M97.5,319.5 L102,320.5 L107.5,323 L107,324.2 L101.2,322.5 L97.5,321Z" fill="#000000"/>
<path d="M104,332 L106.5,332 L106.5,334 L104,334Z" fill="#000000"/>
<path d="M114,333.2 L116.5,334 L117,341.2 L115,340.5Z" fill="#000000"/>
<path d="M630.5,217.7 L635,217.1 L635.3,218.3 L630.8,218.9Z" fill="#000000"/>
<path d="M637.2,215 L641,215 L641,216.2 L637.2,216.2Z" fill="#000000"/>
</svg>
<div class="title t1">Location quotient of telecommunications equipment installers</div>
<div class="title t2">and repairers, except line installers by area, May 2022</div>
<div class="legend-title">Location quotient</div>
<div class="sw" style="left:471px;top:533px;background:#FFB6C1"></div><div class="item" style="left:486px;top:531px">0.20 - 0.40</div>
<div class="sw" style="left:575px;top:533px;background:#BC8F8F"></div><div class="item" style="left:589px;top:531px">0.40 - 0.80</div>
<div class="sw" style="left:471px;top:548px;background:#CD5C5C"></div><div class="item" style="left:486px;top:546px">0.80 - 1.25</div>
<div class="sw" style="left:575px;top:548px;background:#B22222"></div><div class="item" style="left:589px;top:546px">1.25 - 2.50</div>
<div class="sw" style="left:471px;top:563px;background:#8B0000"></div><div class="item" style="left:486px;top:561px">2.50 - 3.50</div>
<div class="foot">Blank areas indicate data not available.</div>
</body>
</html>
